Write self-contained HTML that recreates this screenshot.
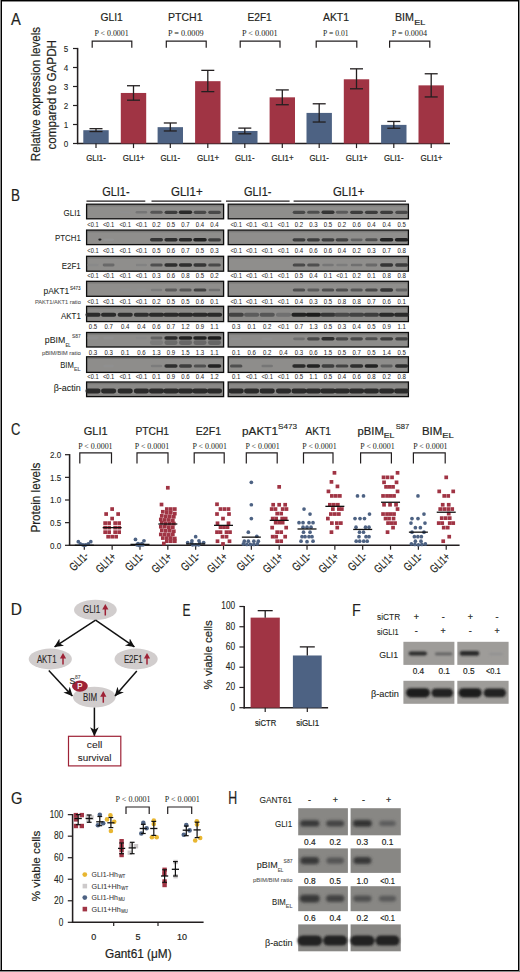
<!DOCTYPE html>
<html><head><meta charset="utf-8"><style>
html,body{margin:0;padding:0;background:#fff;}
body{width:520px;height:972px;overflow:hidden;}
svg{display:block;}
</style></head><body>
<svg width="520" height="972" viewBox="0 0 520 972" fill="#231f20" font-family='"Liberation Sans", sans-serif'>
<defs><filter id="bl" x="-20%" y="-50%" width="140%" height="200%"><feGaussianBlur stdDeviation="0.75"/></filter><filter id="bl2" x="-20%" y="-60%" width="140%" height="220%"><feGaussianBlur stdDeviation="1.3"/></filter><filter id="bl3" x="-30%" y="-80%" width="160%" height="260%"><feGaussianBlur stdDeviation="1.7"/></filter></defs>
<text x="11.00" y="25.00" font-size="16.50" stroke="#231f20" stroke-width="0.20" textLength="9.80" lengthAdjust="spacingAndGlyphs">A</text>
<text x="40.20" y="161.20" font-size="12.60" stroke="#231f20" stroke-width="0.20" textLength="134.30" lengthAdjust="spacingAndGlyphs" transform="rotate(-90 40.20 161.20)">Relative expression levels</text>
<text x="55.80" y="149.60" font-size="12.60" stroke="#231f20" stroke-width="0.20" textLength="109.60" lengthAdjust="spacingAndGlyphs" transform="rotate(-90 55.80 149.60)">compared to GAPDH</text>
<line x1="77.60" y1="144.10" x2="77.60" y2="47.90" stroke="#231f20" stroke-width="1.55"/>
<line x1="73.00" y1="143.50" x2="77.60" y2="143.50" stroke="#231f20" stroke-width="1.20"/>
<text x="68.20" y="146.70" font-size="9.80" stroke="#231f20" stroke-width="0.10" text-anchor="end" textLength="4.50" lengthAdjust="spacingAndGlyphs">0</text>
<line x1="73.00" y1="124.50" x2="77.60" y2="124.50" stroke="#231f20" stroke-width="1.20"/>
<text x="68.20" y="127.70" font-size="9.80" stroke="#231f20" stroke-width="0.10" text-anchor="end" textLength="4.50" lengthAdjust="spacingAndGlyphs">1</text>
<line x1="73.00" y1="105.50" x2="77.60" y2="105.50" stroke="#231f20" stroke-width="1.20"/>
<text x="68.20" y="108.70" font-size="9.80" stroke="#231f20" stroke-width="0.10" text-anchor="end" textLength="4.50" lengthAdjust="spacingAndGlyphs">2</text>
<line x1="73.00" y1="86.50" x2="77.60" y2="86.50" stroke="#231f20" stroke-width="1.20"/>
<text x="68.20" y="89.70" font-size="9.80" stroke="#231f20" stroke-width="0.10" text-anchor="end" textLength="4.50" lengthAdjust="spacingAndGlyphs">3</text>
<line x1="73.00" y1="67.50" x2="77.60" y2="67.50" stroke="#231f20" stroke-width="1.20"/>
<text x="68.20" y="70.70" font-size="9.80" stroke="#231f20" stroke-width="0.10" text-anchor="end" textLength="4.50" lengthAdjust="spacingAndGlyphs">4</text>
<line x1="73.00" y1="48.50" x2="77.60" y2="48.50" stroke="#231f20" stroke-width="1.20"/>
<text x="68.20" y="51.70" font-size="9.80" stroke="#231f20" stroke-width="0.10" text-anchor="end" textLength="4.50" lengthAdjust="spacingAndGlyphs">5</text>
<line x1="76.90" y1="143.50" x2="450.00" y2="143.50" stroke="#231f20" stroke-width="1.55"/>
<rect x="83.30" y="130.20" width="25.40" height="13.30" fill="#4d6283"/>
<line x1="96.00" y1="128.68" x2="96.00" y2="131.53" stroke="#231f20" stroke-width="1.30"/>
<line x1="89.50" y1="128.68" x2="102.50" y2="128.68" stroke="#231f20" stroke-width="1.30"/>
<line x1="89.50" y1="131.53" x2="102.50" y2="131.53" stroke="#231f20" stroke-width="1.30"/>
<line x1="96.00" y1="143.50" x2="96.00" y2="148.10" stroke="#231f20" stroke-width="1.20"/>
<text x="96.00" y="161.40" font-size="9.20" stroke="#231f20" stroke-width="0.20" text-anchor="middle" textLength="19.50" lengthAdjust="spacingAndGlyphs">GLI1-</text>
<rect x="120.80" y="92.96" width="25.40" height="50.54" fill="#a03444"/>
<line x1="133.50" y1="85.74" x2="133.50" y2="100.18" stroke="#231f20" stroke-width="1.30"/>
<line x1="127.00" y1="85.74" x2="140.00" y2="85.74" stroke="#231f20" stroke-width="1.30"/>
<line x1="127.00" y1="100.18" x2="140.00" y2="100.18" stroke="#231f20" stroke-width="1.30"/>
<line x1="133.50" y1="143.50" x2="133.50" y2="148.10" stroke="#231f20" stroke-width="1.20"/>
<text x="133.80" y="161.40" font-size="9.20" stroke="#231f20" stroke-width="0.20" text-anchor="middle" textLength="22.00" lengthAdjust="spacingAndGlyphs">GLI1+</text>
<rect x="157.60" y="127.16" width="25.40" height="16.34" fill="#4d6283"/>
<line x1="170.30" y1="122.98" x2="170.30" y2="130.96" stroke="#231f20" stroke-width="1.30"/>
<line x1="163.80" y1="122.98" x2="176.80" y2="122.98" stroke="#231f20" stroke-width="1.30"/>
<line x1="163.80" y1="130.96" x2="176.80" y2="130.96" stroke="#231f20" stroke-width="1.30"/>
<line x1="170.30" y1="143.50" x2="170.30" y2="148.10" stroke="#231f20" stroke-width="1.20"/>
<text x="170.30" y="161.40" font-size="9.20" stroke="#231f20" stroke-width="0.20" text-anchor="middle" textLength="19.50" lengthAdjust="spacingAndGlyphs">GLI1-</text>
<rect x="195.10" y="81.18" width="25.40" height="62.32" fill="#a03444"/>
<line x1="207.80" y1="70.35" x2="207.80" y2="91.63" stroke="#231f20" stroke-width="1.30"/>
<line x1="201.30" y1="70.35" x2="214.30" y2="70.35" stroke="#231f20" stroke-width="1.30"/>
<line x1="201.30" y1="91.63" x2="214.30" y2="91.63" stroke="#231f20" stroke-width="1.30"/>
<line x1="207.80" y1="143.50" x2="207.80" y2="148.10" stroke="#231f20" stroke-width="1.20"/>
<text x="208.10" y="161.40" font-size="9.20" stroke="#231f20" stroke-width="0.20" text-anchor="middle" textLength="22.00" lengthAdjust="spacingAndGlyphs">GLI1+</text>
<rect x="232.10" y="130.96" width="25.40" height="12.54" fill="#4d6283"/>
<line x1="244.80" y1="128.11" x2="244.80" y2="133.81" stroke="#231f20" stroke-width="1.30"/>
<line x1="238.30" y1="128.11" x2="251.30" y2="128.11" stroke="#231f20" stroke-width="1.30"/>
<line x1="238.30" y1="133.81" x2="251.30" y2="133.81" stroke="#231f20" stroke-width="1.30"/>
<line x1="244.80" y1="143.50" x2="244.80" y2="148.10" stroke="#231f20" stroke-width="1.20"/>
<text x="244.80" y="161.40" font-size="9.20" stroke="#231f20" stroke-width="0.20" text-anchor="middle" textLength="19.50" lengthAdjust="spacingAndGlyphs">GLI1-</text>
<rect x="269.60" y="97.33" width="25.40" height="46.17" fill="#a03444"/>
<line x1="282.30" y1="89.92" x2="282.30" y2="104.74" stroke="#231f20" stroke-width="1.30"/>
<line x1="275.80" y1="89.92" x2="288.80" y2="89.92" stroke="#231f20" stroke-width="1.30"/>
<line x1="275.80" y1="104.74" x2="288.80" y2="104.74" stroke="#231f20" stroke-width="1.30"/>
<line x1="282.30" y1="143.50" x2="282.30" y2="148.10" stroke="#231f20" stroke-width="1.20"/>
<text x="282.60" y="161.40" font-size="9.20" stroke="#231f20" stroke-width="0.20" text-anchor="middle" textLength="22.00" lengthAdjust="spacingAndGlyphs">GLI1+</text>
<rect x="306.50" y="112.91" width="25.40" height="30.59" fill="#4d6283"/>
<line x1="319.20" y1="103.79" x2="319.20" y2="122.03" stroke="#231f20" stroke-width="1.30"/>
<line x1="312.70" y1="103.79" x2="325.70" y2="103.79" stroke="#231f20" stroke-width="1.30"/>
<line x1="312.70" y1="122.03" x2="325.70" y2="122.03" stroke="#231f20" stroke-width="1.30"/>
<line x1="319.20" y1="143.50" x2="319.20" y2="148.10" stroke="#231f20" stroke-width="1.20"/>
<text x="319.20" y="161.40" font-size="9.20" stroke="#231f20" stroke-width="0.20" text-anchor="middle" textLength="19.50" lengthAdjust="spacingAndGlyphs">GLI1-</text>
<rect x="343.80" y="79.28" width="25.40" height="64.22" fill="#a03444"/>
<line x1="356.50" y1="68.83" x2="356.50" y2="88.78" stroke="#231f20" stroke-width="1.30"/>
<line x1="350.00" y1="68.83" x2="363.00" y2="68.83" stroke="#231f20" stroke-width="1.30"/>
<line x1="350.00" y1="88.78" x2="363.00" y2="88.78" stroke="#231f20" stroke-width="1.30"/>
<line x1="356.50" y1="143.50" x2="356.50" y2="148.10" stroke="#231f20" stroke-width="1.20"/>
<text x="356.80" y="161.40" font-size="9.20" stroke="#231f20" stroke-width="0.20" text-anchor="middle" textLength="22.00" lengthAdjust="spacingAndGlyphs">GLI1+</text>
<rect x="381.10" y="124.88" width="25.40" height="18.62" fill="#4d6283"/>
<line x1="393.80" y1="121.46" x2="393.80" y2="128.30" stroke="#231f20" stroke-width="1.30"/>
<line x1="387.30" y1="121.46" x2="400.30" y2="121.46" stroke="#231f20" stroke-width="1.30"/>
<line x1="387.30" y1="128.30" x2="400.30" y2="128.30" stroke="#231f20" stroke-width="1.30"/>
<line x1="393.80" y1="143.50" x2="393.80" y2="148.10" stroke="#231f20" stroke-width="1.20"/>
<text x="393.80" y="161.40" font-size="9.20" stroke="#231f20" stroke-width="0.20" text-anchor="middle" textLength="19.50" lengthAdjust="spacingAndGlyphs">GLI1-</text>
<rect x="418.50" y="85.36" width="25.40" height="58.14" fill="#a03444"/>
<line x1="431.20" y1="73.77" x2="431.20" y2="96.95" stroke="#231f20" stroke-width="1.30"/>
<line x1="424.70" y1="73.77" x2="437.70" y2="73.77" stroke="#231f20" stroke-width="1.30"/>
<line x1="424.70" y1="96.95" x2="437.70" y2="96.95" stroke="#231f20" stroke-width="1.30"/>
<line x1="431.20" y1="143.50" x2="431.20" y2="148.10" stroke="#231f20" stroke-width="1.20"/>
<text x="431.50" y="161.40" font-size="9.20" stroke="#231f20" stroke-width="0.20" text-anchor="middle" textLength="22.00" lengthAdjust="spacingAndGlyphs">GLI1+</text>
<text x="111.60" y="21.20" font-size="11.60" stroke="#231f20" stroke-width="0.20" text-anchor="middle" textLength="22.30" lengthAdjust="spacingAndGlyphs">GLI1</text>
<text x="185.30" y="21.20" font-size="11.60" stroke="#231f20" stroke-width="0.20" text-anchor="middle" textLength="34.50" lengthAdjust="spacingAndGlyphs">PTCH1</text>
<text x="259.60" y="21.20" font-size="11.60" stroke="#231f20" stroke-width="0.20" text-anchor="middle" textLength="24.20" lengthAdjust="spacingAndGlyphs">E2F1</text>
<text x="336.00" y="21.20" font-size="11.60" stroke="#231f20" stroke-width="0.20" text-anchor="middle" textLength="26.00" lengthAdjust="spacingAndGlyphs">AKT1</text>
<text x="395.00" y="21.20" font-size="11.60" stroke="#231f20" stroke-width="0.20" textLength="19.00" lengthAdjust="spacingAndGlyphs">BIM</text>
<text x="414.20" y="24.60" font-size="7.60" stroke="#231f20" stroke-width="0.20" textLength="11.00" lengthAdjust="spacingAndGlyphs">EL</text>
<text x="111.60" y="35.90" font-size="8.40" text-anchor="middle" textLength="34.30" lengthAdjust="spacingAndGlyphs" font-family='"Liberation Serif", serif'>P &lt; 0.0001</text>
<text x="185.80" y="35.90" font-size="8.40" text-anchor="middle" textLength="35.60" lengthAdjust="spacingAndGlyphs" font-family='"Liberation Serif", serif'>P = 0.0009</text>
<text x="259.80" y="35.90" font-size="8.40" text-anchor="middle" textLength="35.70" lengthAdjust="spacingAndGlyphs" font-family='"Liberation Serif", serif'>P &lt; 0.0001</text>
<text x="335.80" y="35.90" font-size="8.40" text-anchor="middle" textLength="25.50" lengthAdjust="spacingAndGlyphs" font-family='"Liberation Serif", serif'>P = 0.01</text>
<text x="409.40" y="35.90" font-size="8.40" text-anchor="middle" textLength="35.30" lengthAdjust="spacingAndGlyphs" font-family='"Liberation Serif", serif'>P = 0.0004</text>
<path d="M92.20 47.8 V41.2 H131.80 V47.8" fill="none" stroke="#231f20" stroke-width="1.2"/>
<path d="M166.30 47.8 V41.2 H206.20 V47.8" fill="none" stroke="#231f20" stroke-width="1.2"/>
<path d="M240.20 47.8 V41.2 H280.00 V47.8" fill="none" stroke="#231f20" stroke-width="1.2"/>
<path d="M316.20 47.8 V41.2 H356.80 V47.8" fill="none" stroke="#231f20" stroke-width="1.2"/>
<path d="M389.60 47.8 V41.2 H429.80 V47.8" fill="none" stroke="#231f20" stroke-width="1.2"/>
<text x="11.00" y="201.00" font-size="16.50" stroke="#231f20" stroke-width="0.20" textLength="9.00" lengthAdjust="spacingAndGlyphs">B</text>
<text x="102.20" y="196.30" font-size="12.20" stroke="#231f20" stroke-width="0.20" textLength="27.40" lengthAdjust="spacingAndGlyphs">GLI1-</text>
<text x="171.00" y="196.30" font-size="12.20" stroke="#231f20" stroke-width="0.20" textLength="31.60" lengthAdjust="spacingAndGlyphs">GLI1+</text>
<text x="244.00" y="196.30" font-size="12.20" stroke="#231f20" stroke-width="0.20" textLength="27.40" lengthAdjust="spacingAndGlyphs">GLI1-</text>
<text x="333.00" y="196.30" font-size="12.20" stroke="#231f20" stroke-width="0.20" textLength="31.30" lengthAdjust="spacingAndGlyphs">GLI1+</text>
<line x1="86.50" y1="201.20" x2="145.30" y2="201.20" stroke="#231f20" stroke-width="1.30"/>
<line x1="151.50" y1="201.20" x2="221.30" y2="201.20" stroke="#231f20" stroke-width="1.30"/>
<line x1="226.00" y1="201.20" x2="289.60" y2="201.20" stroke="#231f20" stroke-width="1.30"/>
<line x1="293.60" y1="201.20" x2="406.00" y2="201.20" stroke="#231f20" stroke-width="1.30"/>
<rect x="86.60" y="204.20" width="137.00" height="14.60" fill="#8f8e8c" stroke="#0d0d0d" stroke-width="1.3"/>
<rect x="87.20" y="204.80" width="135.80" height="1.6" fill="#555" opacity="0.35"/>
<g filter="url(#bl)">
<rect x="119.74" y="211.16" width="10.92" height="2.28" rx="1.14" fill="rgb(143,143,143)"/>
<rect x="135.64" y="211.00" width="11.52" height="2.60" rx="1.30" fill="rgb(118,118,118)"/>
<rect x="150.36" y="210.80" width="12.28" height="3.00" rx="1.50" fill="rgb(86,86,86)"/>
<rect x="164.56" y="210.64" width="12.89" height="3.32" rx="1.66" fill="rgb(60,60,60)"/>
<rect x="178.83" y="210.52" width="13.34" height="3.56" rx="1.78" fill="rgb(41,41,41)"/>
<rect x="193.71" y="210.72" width="12.59" height="3.16" rx="1.58" fill="rgb(73,73,73)"/>
<rect x="208.21" y="210.72" width="12.59" height="3.16" rx="1.58" fill="rgb(73,73,73)"/>
</g>
<rect x="228.20" y="204.20" width="180.20" height="14.60" fill="#8f8e8c" stroke="#0d0d0d" stroke-width="1.3"/>
<rect x="228.80" y="204.80" width="179.00" height="1.6" fill="#555" opacity="0.35"/>
<g filter="url(#bl)">
<rect x="292.71" y="210.72" width="12.59" height="3.16" rx="1.58" fill="rgb(73,73,73)"/>
<rect x="307.18" y="210.76" width="12.43" height="3.08" rx="1.54" fill="rgb(79,79,79)"/>
<rect x="321.48" y="210.60" width="13.04" height="3.40" rx="1.70" fill="rgb(54,54,54)"/>
<rect x="335.93" y="210.84" width="12.13" height="2.92" rx="1.46" fill="rgb(92,92,92)"/>
<rect x="350.16" y="210.64" width="12.89" height="3.32" rx="1.66" fill="rgb(60,60,60)"/>
<rect x="364.96" y="210.64" width="12.89" height="3.32" rx="1.66" fill="rgb(60,60,60)"/>
<rect x="380.16" y="210.64" width="12.89" height="3.32" rx="1.66" fill="rgb(60,60,60)"/>
<rect x="395.31" y="210.72" width="12.59" height="3.16" rx="1.58" fill="rgb(73,73,73)"/>
</g>
<rect x="86.60" y="230.10" width="137.00" height="14.50" fill="#8f8e8c" stroke="#0d0d0d" stroke-width="1.3"/>
<rect x="87.20" y="230.70" width="135.80" height="1.6" fill="#555" opacity="0.35"/>
<g filter="url(#bl)">
<rect x="103.17" y="238.68" width="10.86" height="2.25" rx="1.12" fill="rgb(146,146,146)"/>
<rect x="149.98" y="238.10" width="13.04" height="3.40" rx="1.70" fill="rgb(54,54,54)"/>
<rect x="164.40" y="238.06" width="13.19" height="3.48" rx="1.74" fill="rgb(47,47,47)"/>
<rect x="178.83" y="238.02" width="13.34" height="3.56" rx="1.78" fill="rgb(41,41,41)"/>
<rect x="193.25" y="237.98" width="13.50" height="3.64" rx="1.82" fill="rgb(34,34,34)"/>
<rect x="208.06" y="238.14" width="12.89" height="3.32" rx="1.66" fill="rgb(60,60,60)"/>
</g>
<rect x="228.20" y="230.10" width="180.20" height="14.50" fill="#8f8e8c" stroke="#0d0d0d" stroke-width="1.3"/>
<rect x="228.80" y="230.70" width="179.00" height="1.6" fill="#555" opacity="0.35"/>
<g filter="url(#bl)">
<rect x="292.56" y="238.14" width="12.89" height="3.32" rx="1.66" fill="rgb(60,60,60)"/>
<rect x="306.96" y="238.14" width="12.89" height="3.32" rx="1.66" fill="rgb(60,60,60)"/>
<rect x="321.56" y="238.14" width="12.89" height="3.32" rx="1.66" fill="rgb(60,60,60)"/>
<rect x="335.63" y="238.18" width="12.74" height="3.24" rx="1.62" fill="rgb(66,66,66)"/>
<rect x="350.61" y="238.38" width="11.98" height="2.84" rx="1.42" fill="rgb(98,98,98)"/>
<rect x="365.18" y="238.26" width="12.43" height="3.08" rx="1.54" fill="rgb(79,79,79)"/>
<rect x="379.85" y="237.98" width="13.50" height="3.64" rx="1.82" fill="rgb(34,34,34)"/>
<rect x="394.85" y="237.98" width="13.50" height="3.64" rx="1.82" fill="rgb(34,34,34)"/>
</g>
<rect x="86.60" y="256.30" width="137.00" height="14.90" fill="#8f8e8c" stroke="#0d0d0d" stroke-width="1.3"/>
<rect x="87.20" y="256.90" width="135.80" height="1.6" fill="#555" opacity="0.35"/>
<g filter="url(#bl)">
<rect x="87.47" y="263.82" width="11.07" height="2.36" rx="1.18" fill="rgb(137,137,137)"/>
<rect x="102.69" y="263.62" width="11.83" height="2.76" rx="1.38" fill="rgb(105,105,105)"/>
<rect x="135.79" y="263.78" width="11.22" height="2.44" rx="1.22" fill="rgb(130,130,130)"/>
<rect x="150.28" y="263.46" width="12.43" height="3.08" rx="1.54" fill="rgb(79,79,79)"/>
<rect x="164.40" y="263.26" width="13.19" height="3.48" rx="1.74" fill="rgb(47,47,47)"/>
<rect x="178.90" y="263.26" width="13.19" height="3.48" rx="1.74" fill="rgb(47,47,47)"/>
<rect x="193.48" y="263.30" width="13.04" height="3.40" rx="1.70" fill="rgb(54,54,54)"/>
<rect x="208.21" y="263.42" width="12.59" height="3.16" rx="1.58" fill="rgb(73,73,73)"/>
</g>
<rect x="228.20" y="256.30" width="180.20" height="14.90" fill="#8f8e8c" stroke="#0d0d0d" stroke-width="1.3"/>
<rect x="228.80" y="256.90" width="179.00" height="1.6" fill="#555" opacity="0.35"/>
<g filter="url(#bl)">
<rect x="292.71" y="263.42" width="12.59" height="3.16" rx="1.58" fill="rgb(73,73,73)"/>
<rect x="307.18" y="263.46" width="12.43" height="3.08" rx="1.54" fill="rgb(79,79,79)"/>
<rect x="322.24" y="263.70" width="11.52" height="2.60" rx="1.30" fill="rgb(118,118,118)"/>
<rect x="336.31" y="263.74" width="11.37" height="2.52" rx="1.26" fill="rgb(124,124,124)"/>
<rect x="350.76" y="263.66" width="11.67" height="2.68" rx="1.34" fill="rgb(111,111,111)"/>
<rect x="365.49" y="263.62" width="11.83" height="2.76" rx="1.38" fill="rgb(105,105,105)"/>
<rect x="380.08" y="263.30" width="13.04" height="3.40" rx="1.70" fill="rgb(54,54,54)"/>
<rect x="395.16" y="263.34" width="12.89" height="3.32" rx="1.66" fill="rgb(60,60,60)"/>
</g>
<rect x="86.60" y="281.30" width="137.00" height="15.00" fill="#8f8e8c" stroke="#0d0d0d" stroke-width="1.3"/>
<rect x="87.20" y="281.90" width="135.80" height="1.6" fill="#555" opacity="0.35"/>
<g filter="url(#bl)">
<rect x="119.74" y="288.86" width="10.92" height="2.28" rx="1.14" fill="rgb(143,143,143)"/>
<rect x="135.94" y="288.86" width="10.92" height="2.28" rx="1.14" fill="rgb(143,143,143)"/>
<rect x="150.81" y="288.74" width="11.37" height="2.52" rx="1.26" fill="rgb(124,124,124)"/>
<rect x="164.93" y="288.54" width="12.13" height="2.92" rx="1.46" fill="rgb(92,92,92)"/>
<rect x="179.36" y="288.50" width="12.28" height="3.00" rx="1.50" fill="rgb(86,86,86)"/>
<rect x="193.63" y="288.38" width="12.74" height="3.24" rx="1.62" fill="rgb(66,66,66)"/>
<rect x="208.66" y="288.66" width="11.67" height="2.68" rx="1.34" fill="rgb(111,111,111)"/>
</g>
<rect x="228.20" y="281.30" width="180.20" height="15.00" fill="#8f8e8c" stroke="#0d0d0d" stroke-width="1.3"/>
<rect x="228.80" y="281.90" width="179.00" height="1.6" fill="#555" opacity="0.35"/>
<g filter="url(#bl)">
<rect x="292.78" y="288.46" width="12.43" height="3.08" rx="1.54" fill="rgb(79,79,79)"/>
<rect x="307.33" y="288.54" width="12.13" height="2.92" rx="1.46" fill="rgb(92,92,92)"/>
<rect x="321.78" y="288.46" width="12.43" height="3.08" rx="1.54" fill="rgb(79,79,79)"/>
<rect x="335.78" y="288.46" width="12.43" height="3.08" rx="1.54" fill="rgb(79,79,79)"/>
<rect x="350.46" y="288.50" width="12.28" height="3.00" rx="1.50" fill="rgb(86,86,86)"/>
<rect x="365.11" y="288.42" width="12.59" height="3.16" rx="1.58" fill="rgb(73,73,73)"/>
<rect x="380.08" y="288.30" width="13.04" height="3.40" rx="1.70" fill="rgb(54,54,54)"/>
<rect x="395.61" y="288.58" width="11.98" height="2.84" rx="1.42" fill="rgb(98,98,98)"/>
</g>
<rect x="86.60" y="306.30" width="137.00" height="15.30" fill="#8c8b89" stroke="#0d0d0d" stroke-width="1.3"/>
<rect x="87.20" y="306.90" width="135.80" height="1.6" fill="#555" opacity="0.35"/>
<g filter="url(#bl)">
<rect x="85.41" y="312.80" width="15.18" height="4.00" rx="2.00" fill="rgb(41,41,41)"/>
<rect x="101.01" y="312.80" width="15.18" height="4.00" rx="2.00" fill="rgb(41,41,41)"/>
<rect x="117.61" y="312.80" width="15.18" height="4.00" rx="2.00" fill="rgb(47,47,47)"/>
<rect x="133.81" y="312.80" width="15.18" height="4.00" rx="2.00" fill="rgb(47,47,47)"/>
<rect x="148.91" y="312.80" width="15.18" height="4.00" rx="2.00" fill="rgb(41,41,41)"/>
<rect x="163.41" y="312.80" width="15.18" height="4.00" rx="2.00" fill="rgb(41,41,41)"/>
<rect x="177.91" y="312.80" width="15.18" height="4.00" rx="2.00" fill="rgb(41,41,41)"/>
<rect x="192.41" y="312.80" width="15.18" height="4.00" rx="2.00" fill="rgb(41,41,41)"/>
<rect x="206.91" y="312.80" width="15.18" height="4.00" rx="2.00" fill="rgb(41,41,41)"/>
</g>
<rect x="228.20" y="306.30" width="180.20" height="15.30" fill="#8c8b89" stroke="#0d0d0d" stroke-width="1.3"/>
<rect x="228.80" y="306.90" width="179.00" height="1.6" fill="#555" opacity="0.35"/>
<g filter="url(#bl)">
<rect x="228.61" y="312.80" width="15.18" height="4.00" rx="2.00" fill="rgb(66,66,66)"/>
<rect x="244.01" y="312.80" width="15.18" height="4.00" rx="2.00" fill="rgb(92,92,92)"/>
<rect x="259.61" y="312.80" width="15.18" height="4.00" rx="2.00" fill="rgb(86,86,86)"/>
<rect x="275.91" y="312.80" width="15.18" height="4.00" rx="2.00" fill="rgb(111,111,111)"/>
<rect x="291.41" y="312.80" width="15.18" height="4.00" rx="2.00" fill="rgb(34,34,34)"/>
<rect x="305.81" y="312.80" width="15.18" height="4.00" rx="2.00" fill="rgb(28,28,28)"/>
<rect x="320.41" y="312.80" width="15.18" height="4.00" rx="2.00" fill="rgb(54,54,54)"/>
<rect x="334.41" y="312.80" width="15.18" height="4.00" rx="2.00" fill="rgb(73,73,73)"/>
<rect x="349.01" y="312.80" width="15.18" height="4.00" rx="2.00" fill="rgb(66,66,66)"/>
<rect x="363.81" y="312.80" width="15.18" height="4.00" rx="2.00" fill="rgb(60,60,60)"/>
<rect x="379.01" y="312.80" width="15.18" height="4.00" rx="2.00" fill="rgb(41,41,41)"/>
<rect x="394.01" y="312.80" width="15.18" height="4.00" rx="2.00" fill="rgb(41,41,41)"/>
</g>
<rect x="86.60" y="332.50" width="137.00" height="14.50" fill="#8d8c8a" stroke="#0d0d0d" stroke-width="1.3"/>
<rect x="87.20" y="333.10" width="135.80" height="1.6" fill="#555" opacity="0.35"/>
<g filter="url(#bl)">
<rect x="87.54" y="336.86" width="10.92" height="2.28" rx="1.14" fill="rgb(143,143,143)"/>
<rect x="103.14" y="336.86" width="10.92" height="2.28" rx="1.14" fill="rgb(143,143,143)"/>
<rect x="135.87" y="336.82" width="11.07" height="2.36" rx="1.18" fill="rgb(137,137,137)"/>
<rect x="150.51" y="336.58" width="11.98" height="2.84" rx="1.42" fill="rgb(98,98,98)"/>
<rect x="149.94" y="340.30" width="13.11" height="4.60" rx="2.30" fill="rgb(120,120,120)" opacity="0.80"/>
<rect x="164.33" y="336.22" width="13.34" height="3.56" rx="1.78" fill="rgb(41,41,41)"/>
<rect x="164.44" y="340.30" width="13.11" height="4.60" rx="2.30" fill="rgb(97,97,97)" opacity="0.80"/>
<rect x="178.75" y="336.18" width="13.50" height="3.64" rx="1.82" fill="rgb(34,34,34)"/>
<rect x="178.94" y="340.30" width="13.11" height="4.60" rx="2.30" fill="rgb(95,95,95)" opacity="0.80"/>
<rect x="193.25" y="336.18" width="13.50" height="3.64" rx="1.82" fill="rgb(34,34,34)"/>
<rect x="193.44" y="340.30" width="13.11" height="4.60" rx="2.30" fill="rgb(95,95,95)" opacity="0.80"/>
<rect x="207.68" y="336.14" width="13.65" height="3.72" rx="1.86" fill="rgb(28,28,28)"/>
<rect x="207.94" y="340.30" width="13.11" height="4.60" rx="2.30" fill="rgb(92,92,92)" opacity="0.80"/>
</g>
<rect x="228.20" y="332.50" width="180.20" height="14.50" fill="#8d8c8a" stroke="#0d0d0d" stroke-width="1.3"/>
<rect x="228.80" y="333.10" width="179.00" height="1.6" fill="#555" opacity="0.35"/>
<g filter="url(#bl)">
<rect x="230.74" y="337.66" width="10.92" height="2.28" rx="1.14" fill="rgb(143,143,143)"/>
<rect x="261.74" y="337.66" width="10.92" height="2.28" rx="1.14" fill="rgb(143,143,143)"/>
<rect x="293.16" y="337.46" width="11.67" height="2.68" rx="1.34" fill="rgb(111,111,111)"/>
<rect x="307.11" y="337.22" width="12.59" height="3.16" rx="1.58" fill="rgb(73,73,73)"/>
<rect x="321.40" y="337.06" width="13.19" height="3.48" rx="1.74" fill="rgb(47,47,47)"/>
<rect x="335.71" y="337.22" width="12.59" height="3.16" rx="1.58" fill="rgb(73,73,73)"/>
<rect x="350.31" y="337.22" width="12.59" height="3.16" rx="1.58" fill="rgb(73,73,73)"/>
<rect x="365.18" y="337.26" width="12.43" height="3.08" rx="1.54" fill="rgb(79,79,79)"/>
<rect x="380.16" y="337.14" width="12.89" height="3.32" rx="1.66" fill="rgb(60,60,60)"/>
<rect x="395.23" y="337.18" width="12.74" height="3.24" rx="1.62" fill="rgb(66,66,66)"/>
</g>
<rect x="86.60" y="356.80" width="137.00" height="15.60" fill="#8e8d8b" stroke="#0d0d0d" stroke-width="1.3"/>
<rect x="87.20" y="357.40" width="135.80" height="1.6" fill="#555" opacity="0.35"/>
<g filter="url(#bl)">
<rect x="103.14" y="364.86" width="10.92" height="2.28" rx="1.14" fill="rgb(143,143,143)"/>
<rect x="150.81" y="364.74" width="11.37" height="2.52" rx="1.26" fill="rgb(124,124,124)"/>
<rect x="164.40" y="364.26" width="13.19" height="3.48" rx="1.74" fill="rgb(47,47,47)"/>
<rect x="179.06" y="364.34" width="12.89" height="3.32" rx="1.66" fill="rgb(60,60,60)"/>
<rect x="193.78" y="364.46" width="12.43" height="3.08" rx="1.54" fill="rgb(79,79,79)"/>
<rect x="207.75" y="364.18" width="13.50" height="3.64" rx="1.82" fill="rgb(34,34,34)"/>
</g>
<rect x="228.20" y="356.80" width="180.20" height="15.60" fill="#8e8d8b" stroke="#0d0d0d" stroke-width="1.3"/>
<rect x="228.80" y="357.40" width="179.00" height="1.6" fill="#555" opacity="0.35"/>
<g filter="url(#bl)">
<rect x="229.98" y="364.46" width="12.43" height="3.08" rx="1.54" fill="rgb(79,79,79)"/>
<rect x="261.44" y="364.70" width="11.52" height="2.60" rx="1.30" fill="rgb(118,118,118)"/>
<rect x="292.33" y="364.22" width="13.34" height="3.56" rx="1.78" fill="rgb(41,41,41)"/>
<rect x="306.65" y="364.18" width="13.50" height="3.64" rx="1.82" fill="rgb(34,34,34)"/>
<rect x="321.56" y="364.34" width="12.89" height="3.32" rx="1.66" fill="rgb(60,60,60)"/>
<rect x="335.63" y="364.38" width="12.74" height="3.24" rx="1.62" fill="rgb(66,66,66)"/>
<rect x="350.00" y="364.26" width="13.19" height="3.48" rx="1.74" fill="rgb(47,47,47)"/>
<rect x="364.65" y="364.18" width="13.50" height="3.64" rx="1.82" fill="rgb(34,34,34)"/>
<rect x="380.53" y="364.54" width="12.13" height="2.92" rx="1.46" fill="rgb(92,92,92)"/>
<rect x="395.00" y="364.26" width="13.19" height="3.48" rx="1.74" fill="rgb(47,47,47)"/>
</g>
<rect x="86.60" y="382.00" width="137.00" height="14.60" fill="#8a8987" stroke="#0d0d0d" stroke-width="1.3"/>
<rect x="87.20" y="382.60" width="135.80" height="1.6" fill="#555" opacity="0.35"/>
<g filter="url(#bl)">
<rect x="85.41" y="388.60" width="15.18" height="4.80" rx="2.40" fill="rgb(41,41,41)"/>
<rect x="101.01" y="388.60" width="15.18" height="4.80" rx="2.40" fill="rgb(41,41,41)"/>
<rect x="117.61" y="388.60" width="15.18" height="4.80" rx="2.40" fill="rgb(41,41,41)"/>
<rect x="133.81" y="388.60" width="15.18" height="4.80" rx="2.40" fill="rgb(41,41,41)"/>
<rect x="148.91" y="388.60" width="15.18" height="4.80" rx="2.40" fill="rgb(41,41,41)"/>
<rect x="163.41" y="388.60" width="15.18" height="4.80" rx="2.40" fill="rgb(41,41,41)"/>
<rect x="177.91" y="388.60" width="15.18" height="4.80" rx="2.40" fill="rgb(41,41,41)"/>
<rect x="192.41" y="388.60" width="15.18" height="4.80" rx="2.40" fill="rgb(41,41,41)"/>
<rect x="206.91" y="388.60" width="15.18" height="4.80" rx="2.40" fill="rgb(41,41,41)"/>
</g>
<rect x="228.20" y="382.00" width="180.20" height="14.60" fill="#8a8987" stroke="#0d0d0d" stroke-width="1.3"/>
<rect x="228.80" y="382.60" width="179.00" height="1.6" fill="#555" opacity="0.35"/>
<g filter="url(#bl)">
<rect x="228.61" y="388.60" width="15.18" height="4.80" rx="2.40" fill="rgb(41,41,41)"/>
<rect x="244.01" y="388.60" width="15.18" height="4.80" rx="2.40" fill="rgb(41,41,41)"/>
<rect x="259.61" y="388.60" width="15.18" height="4.80" rx="2.40" fill="rgb(41,41,41)"/>
<rect x="275.91" y="388.60" width="15.18" height="4.80" rx="2.40" fill="rgb(41,41,41)"/>
<rect x="291.41" y="388.60" width="15.18" height="4.80" rx="2.40" fill="rgb(41,41,41)"/>
<rect x="305.81" y="388.60" width="15.18" height="4.80" rx="2.40" fill="rgb(41,41,41)"/>
<rect x="320.41" y="388.60" width="15.18" height="4.80" rx="2.40" fill="rgb(41,41,41)"/>
<rect x="334.41" y="388.60" width="15.18" height="4.80" rx="2.40" fill="rgb(41,41,41)"/>
<rect x="349.01" y="388.60" width="15.18" height="4.80" rx="2.40" fill="rgb(41,41,41)"/>
<rect x="363.81" y="388.60" width="15.18" height="4.80" rx="2.40" fill="rgb(41,41,41)"/>
<rect x="379.01" y="388.60" width="15.18" height="4.80" rx="2.40" fill="rgb(41,41,41)"/>
<rect x="394.01" y="388.60" width="15.18" height="4.80" rx="2.40" fill="rgb(41,41,41)"/>
</g>
<ellipse cx="99.9" cy="239.6" rx="1.6" ry="1.1" fill="#222" filter="url(#bl)"/>
<text x="80.80" y="215.80" font-size="9.40" stroke="#231f20" stroke-width="0.08" text-anchor="end" textLength="17.30" lengthAdjust="spacingAndGlyphs">GLI1</text>
<text x="80.80" y="241.20" font-size="9.40" stroke="#231f20" stroke-width="0.08" text-anchor="end" textLength="25.80" lengthAdjust="spacingAndGlyphs">PTCH1</text>
<text x="80.80" y="268.80" font-size="9.40" stroke="#231f20" stroke-width="0.08" text-anchor="end" textLength="19.00" lengthAdjust="spacingAndGlyphs">E2F1</text>
<text x="43.60" y="293.80" font-size="9.40" stroke="#231f20" stroke-width="0.08" textLength="25.70" lengthAdjust="spacingAndGlyphs">pAKT1</text>
<text x="70.10" y="290.40" font-size="5.30" stroke="#231f20" stroke-width="0.08" textLength="10.50" lengthAdjust="spacingAndGlyphs">S473</text>
<text x="80.80" y="303.70" font-size="5.60" stroke="#555" stroke-width="0.08" text-anchor="end" textLength="45.90" lengthAdjust="spacingAndGlyphs" fill="#555">PAKT1/AKT1 ratio</text>
<text x="80.80" y="318.90" font-size="9.40" stroke="#231f20" stroke-width="0.08" text-anchor="end" textLength="19.70" lengthAdjust="spacingAndGlyphs">AKT1</text>
<text x="44.80" y="343.00" font-size="9.40" stroke="#231f20" stroke-width="0.08" textLength="20.40" lengthAdjust="spacingAndGlyphs">pBIM</text>
<text x="65.40" y="346.70" font-size="5.20" stroke="#231f20" stroke-width="0.08" textLength="5.30" lengthAdjust="spacingAndGlyphs">EL</text>
<text x="72.00" y="338.00" font-size="5.30" stroke="#444" stroke-width="0.08" textLength="8.60" lengthAdjust="spacingAndGlyphs" fill="#444">S87</text>
<text x="80.80" y="354.60" font-size="5.60" stroke="#555" stroke-width="0.08" text-anchor="end" textLength="38.90" lengthAdjust="spacingAndGlyphs" fill="#555">pBIM/BIM ratio</text>
<text x="60.20" y="367.70" font-size="9.40" stroke="#231f20" stroke-width="0.08" textLength="13.60" lengthAdjust="spacingAndGlyphs">BIM</text>
<text x="74.00" y="371.40" font-size="5.20" stroke="#444" stroke-width="0.08" textLength="6.60" lengthAdjust="spacingAndGlyphs" fill="#444">EL</text>
<text x="80.80" y="391.10" font-size="9.40" stroke="#231f20" stroke-width="0.08" text-anchor="end" textLength="27.10" lengthAdjust="spacingAndGlyphs">&#946;-actin</text>
<text x="93.00" y="226.90" font-size="7.30" stroke="#2a2a2a" stroke-width="0.05" text-anchor="middle" textLength="11.40" lengthAdjust="spacingAndGlyphs" fill="#2a2a2a">&lt;0.1</text>
<text x="108.60" y="226.90" font-size="7.30" stroke="#2a2a2a" stroke-width="0.05" text-anchor="middle" textLength="11.40" lengthAdjust="spacingAndGlyphs" fill="#2a2a2a">&lt;0.1</text>
<text x="125.20" y="226.90" font-size="7.30" stroke="#2a2a2a" stroke-width="0.05" text-anchor="middle" textLength="11.40" lengthAdjust="spacingAndGlyphs" fill="#2a2a2a">&lt;0.1</text>
<text x="141.40" y="226.90" font-size="7.30" stroke="#2a2a2a" stroke-width="0.05" text-anchor="middle" textLength="11.40" lengthAdjust="spacingAndGlyphs" fill="#2a2a2a">&lt;0.1</text>
<text x="156.50" y="226.90" font-size="7.30" stroke="#2a2a2a" stroke-width="0.05" text-anchor="middle" textLength="8.40" lengthAdjust="spacingAndGlyphs" fill="#2a2a2a">0.2</text>
<text x="171.00" y="226.90" font-size="7.30" stroke="#2a2a2a" stroke-width="0.05" text-anchor="middle" textLength="8.40" lengthAdjust="spacingAndGlyphs" fill="#2a2a2a">0.5</text>
<text x="185.50" y="226.90" font-size="7.30" stroke="#2a2a2a" stroke-width="0.05" text-anchor="middle" textLength="8.40" lengthAdjust="spacingAndGlyphs" fill="#2a2a2a">0.7</text>
<text x="200.00" y="226.90" font-size="7.30" stroke="#2a2a2a" stroke-width="0.05" text-anchor="middle" textLength="8.40" lengthAdjust="spacingAndGlyphs" fill="#2a2a2a">0.4</text>
<text x="214.50" y="226.90" font-size="7.30" stroke="#2a2a2a" stroke-width="0.05" text-anchor="middle" textLength="8.40" lengthAdjust="spacingAndGlyphs" fill="#2a2a2a">0.4</text>
<text x="236.20" y="226.90" font-size="7.30" stroke="#2a2a2a" stroke-width="0.05" text-anchor="middle" textLength="11.40" lengthAdjust="spacingAndGlyphs" fill="#2a2a2a">&lt;0.1</text>
<text x="251.60" y="226.90" font-size="7.30" stroke="#2a2a2a" stroke-width="0.05" text-anchor="middle" textLength="11.40" lengthAdjust="spacingAndGlyphs" fill="#2a2a2a">&lt;0.1</text>
<text x="267.20" y="226.90" font-size="7.30" stroke="#2a2a2a" stroke-width="0.05" text-anchor="middle" textLength="11.40" lengthAdjust="spacingAndGlyphs" fill="#2a2a2a">&lt;0.1</text>
<text x="283.50" y="226.90" font-size="7.30" stroke="#2a2a2a" stroke-width="0.05" text-anchor="middle" textLength="11.40" lengthAdjust="spacingAndGlyphs" fill="#2a2a2a">&lt;0.1</text>
<text x="299.00" y="226.90" font-size="7.30" stroke="#2a2a2a" stroke-width="0.05" text-anchor="middle" textLength="8.40" lengthAdjust="spacingAndGlyphs" fill="#2a2a2a">0.2</text>
<text x="313.40" y="226.90" font-size="7.30" stroke="#2a2a2a" stroke-width="0.05" text-anchor="middle" textLength="8.40" lengthAdjust="spacingAndGlyphs" fill="#2a2a2a">0.3</text>
<text x="328.00" y="226.90" font-size="7.30" stroke="#2a2a2a" stroke-width="0.05" text-anchor="middle" textLength="8.40" lengthAdjust="spacingAndGlyphs" fill="#2a2a2a">0.5</text>
<text x="342.00" y="226.90" font-size="7.30" stroke="#2a2a2a" stroke-width="0.05" text-anchor="middle" textLength="8.40" lengthAdjust="spacingAndGlyphs" fill="#2a2a2a">0.2</text>
<text x="356.60" y="226.90" font-size="7.30" stroke="#2a2a2a" stroke-width="0.05" text-anchor="middle" textLength="8.40" lengthAdjust="spacingAndGlyphs" fill="#2a2a2a">0.6</text>
<text x="371.40" y="226.90" font-size="7.30" stroke="#2a2a2a" stroke-width="0.05" text-anchor="middle" textLength="8.40" lengthAdjust="spacingAndGlyphs" fill="#2a2a2a">0.4</text>
<text x="386.60" y="226.90" font-size="7.30" stroke="#2a2a2a" stroke-width="0.05" text-anchor="middle" textLength="8.40" lengthAdjust="spacingAndGlyphs" fill="#2a2a2a">0.4</text>
<text x="401.60" y="226.90" font-size="7.30" stroke="#2a2a2a" stroke-width="0.05" text-anchor="middle" textLength="8.40" lengthAdjust="spacingAndGlyphs" fill="#2a2a2a">0.5</text>
<text x="93.00" y="252.50" font-size="7.30" stroke="#2a2a2a" stroke-width="0.05" text-anchor="middle" textLength="11.40" lengthAdjust="spacingAndGlyphs" fill="#2a2a2a">&lt;0.1</text>
<text x="108.60" y="252.50" font-size="7.30" stroke="#2a2a2a" stroke-width="0.05" text-anchor="middle" textLength="11.40" lengthAdjust="spacingAndGlyphs" fill="#2a2a2a">&lt;0.1</text>
<text x="125.20" y="252.50" font-size="7.30" stroke="#2a2a2a" stroke-width="0.05" text-anchor="middle" textLength="11.40" lengthAdjust="spacingAndGlyphs" fill="#2a2a2a">&lt;0.1</text>
<text x="141.40" y="252.50" font-size="7.30" stroke="#2a2a2a" stroke-width="0.05" text-anchor="middle" textLength="11.40" lengthAdjust="spacingAndGlyphs" fill="#2a2a2a">&lt;0.1</text>
<text x="156.50" y="252.50" font-size="7.30" stroke="#2a2a2a" stroke-width="0.05" text-anchor="middle" textLength="8.40" lengthAdjust="spacingAndGlyphs" fill="#2a2a2a">0.5</text>
<text x="171.00" y="252.50" font-size="7.30" stroke="#2a2a2a" stroke-width="0.05" text-anchor="middle" textLength="8.40" lengthAdjust="spacingAndGlyphs" fill="#2a2a2a">0.6</text>
<text x="185.50" y="252.50" font-size="7.30" stroke="#2a2a2a" stroke-width="0.05" text-anchor="middle" textLength="8.40" lengthAdjust="spacingAndGlyphs" fill="#2a2a2a">0.7</text>
<text x="200.00" y="252.50" font-size="7.30" stroke="#2a2a2a" stroke-width="0.05" text-anchor="middle" textLength="8.40" lengthAdjust="spacingAndGlyphs" fill="#2a2a2a">0.5</text>
<text x="214.50" y="252.50" font-size="7.30" stroke="#2a2a2a" stroke-width="0.05" text-anchor="middle" textLength="8.40" lengthAdjust="spacingAndGlyphs" fill="#2a2a2a">0.3</text>
<text x="236.20" y="252.50" font-size="7.30" stroke="#2a2a2a" stroke-width="0.05" text-anchor="middle" textLength="11.40" lengthAdjust="spacingAndGlyphs" fill="#2a2a2a">&lt;0.1</text>
<text x="251.60" y="252.50" font-size="7.30" stroke="#2a2a2a" stroke-width="0.05" text-anchor="middle" textLength="11.40" lengthAdjust="spacingAndGlyphs" fill="#2a2a2a">&lt;0.1</text>
<text x="267.20" y="252.50" font-size="7.30" stroke="#2a2a2a" stroke-width="0.05" text-anchor="middle" textLength="11.40" lengthAdjust="spacingAndGlyphs" fill="#2a2a2a">&lt;0.1</text>
<text x="283.50" y="252.50" font-size="7.30" stroke="#2a2a2a" stroke-width="0.05" text-anchor="middle" textLength="11.40" lengthAdjust="spacingAndGlyphs" fill="#2a2a2a">&lt;0.1</text>
<text x="299.00" y="252.50" font-size="7.30" stroke="#2a2a2a" stroke-width="0.05" text-anchor="middle" textLength="8.40" lengthAdjust="spacingAndGlyphs" fill="#2a2a2a">0.4</text>
<text x="313.40" y="252.50" font-size="7.30" stroke="#2a2a2a" stroke-width="0.05" text-anchor="middle" textLength="8.40" lengthAdjust="spacingAndGlyphs" fill="#2a2a2a">0.6</text>
<text x="328.00" y="252.50" font-size="7.30" stroke="#2a2a2a" stroke-width="0.05" text-anchor="middle" textLength="8.40" lengthAdjust="spacingAndGlyphs" fill="#2a2a2a">0.6</text>
<text x="342.00" y="252.50" font-size="7.30" stroke="#2a2a2a" stroke-width="0.05" text-anchor="middle" textLength="8.40" lengthAdjust="spacingAndGlyphs" fill="#2a2a2a">0.4</text>
<text x="356.60" y="252.50" font-size="7.30" stroke="#2a2a2a" stroke-width="0.05" text-anchor="middle" textLength="8.40" lengthAdjust="spacingAndGlyphs" fill="#2a2a2a">0.2</text>
<text x="371.40" y="252.50" font-size="7.30" stroke="#2a2a2a" stroke-width="0.05" text-anchor="middle" textLength="8.40" lengthAdjust="spacingAndGlyphs" fill="#2a2a2a">0.3</text>
<text x="386.60" y="252.50" font-size="7.30" stroke="#2a2a2a" stroke-width="0.05" text-anchor="middle" textLength="8.40" lengthAdjust="spacingAndGlyphs" fill="#2a2a2a">0.7</text>
<text x="401.60" y="252.50" font-size="7.30" stroke="#2a2a2a" stroke-width="0.05" text-anchor="middle" textLength="8.40" lengthAdjust="spacingAndGlyphs" fill="#2a2a2a">0.8</text>
<text x="93.00" y="277.90" font-size="7.30" stroke="#2a2a2a" stroke-width="0.05" text-anchor="middle" textLength="11.40" lengthAdjust="spacingAndGlyphs" fill="#2a2a2a">&lt;0.1</text>
<text x="108.60" y="277.90" font-size="7.30" stroke="#2a2a2a" stroke-width="0.05" text-anchor="middle" textLength="11.40" lengthAdjust="spacingAndGlyphs" fill="#2a2a2a">&lt;0.1</text>
<text x="125.20" y="277.90" font-size="7.30" stroke="#2a2a2a" stroke-width="0.05" text-anchor="middle" textLength="11.40" lengthAdjust="spacingAndGlyphs" fill="#2a2a2a">&lt;0.1</text>
<text x="141.40" y="277.90" font-size="7.30" stroke="#2a2a2a" stroke-width="0.05" text-anchor="middle" textLength="11.40" lengthAdjust="spacingAndGlyphs" fill="#2a2a2a">&lt;0.1</text>
<text x="156.50" y="277.90" font-size="7.30" stroke="#2a2a2a" stroke-width="0.05" text-anchor="middle" textLength="8.40" lengthAdjust="spacingAndGlyphs" fill="#2a2a2a">0.3</text>
<text x="171.00" y="277.90" font-size="7.30" stroke="#2a2a2a" stroke-width="0.05" text-anchor="middle" textLength="8.40" lengthAdjust="spacingAndGlyphs" fill="#2a2a2a">0.6</text>
<text x="185.50" y="277.90" font-size="7.30" stroke="#2a2a2a" stroke-width="0.05" text-anchor="middle" textLength="8.40" lengthAdjust="spacingAndGlyphs" fill="#2a2a2a">0.8</text>
<text x="200.00" y="277.90" font-size="7.30" stroke="#2a2a2a" stroke-width="0.05" text-anchor="middle" textLength="8.40" lengthAdjust="spacingAndGlyphs" fill="#2a2a2a">0.5</text>
<text x="214.50" y="277.90" font-size="7.30" stroke="#2a2a2a" stroke-width="0.05" text-anchor="middle" textLength="8.40" lengthAdjust="spacingAndGlyphs" fill="#2a2a2a">0.2</text>
<text x="236.20" y="277.90" font-size="7.30" stroke="#2a2a2a" stroke-width="0.05" text-anchor="middle" textLength="11.40" lengthAdjust="spacingAndGlyphs" fill="#2a2a2a">&lt;0.1</text>
<text x="251.60" y="277.90" font-size="7.30" stroke="#2a2a2a" stroke-width="0.05" text-anchor="middle" textLength="11.40" lengthAdjust="spacingAndGlyphs" fill="#2a2a2a">&lt;0.1</text>
<text x="267.20" y="277.90" font-size="7.30" stroke="#2a2a2a" stroke-width="0.05" text-anchor="middle" textLength="11.40" lengthAdjust="spacingAndGlyphs" fill="#2a2a2a">&lt;0.1</text>
<text x="283.50" y="277.90" font-size="7.30" stroke="#2a2a2a" stroke-width="0.05" text-anchor="middle" textLength="11.40" lengthAdjust="spacingAndGlyphs" fill="#2a2a2a">&lt;0.1</text>
<text x="299.00" y="277.90" font-size="7.30" stroke="#2a2a2a" stroke-width="0.05" text-anchor="middle" textLength="8.40" lengthAdjust="spacingAndGlyphs" fill="#2a2a2a">0.5</text>
<text x="313.40" y="277.90" font-size="7.30" stroke="#2a2a2a" stroke-width="0.05" text-anchor="middle" textLength="8.40" lengthAdjust="spacingAndGlyphs" fill="#2a2a2a">0.4</text>
<text x="328.00" y="277.90" font-size="7.30" stroke="#2a2a2a" stroke-width="0.05" text-anchor="middle" textLength="8.40" lengthAdjust="spacingAndGlyphs" fill="#2a2a2a">0.1</text>
<text x="342.00" y="277.90" font-size="7.30" stroke="#2a2a2a" stroke-width="0.05" text-anchor="middle" textLength="11.40" lengthAdjust="spacingAndGlyphs" fill="#2a2a2a">&lt;0.1</text>
<text x="356.60" y="277.90" font-size="7.30" stroke="#2a2a2a" stroke-width="0.05" text-anchor="middle" textLength="8.40" lengthAdjust="spacingAndGlyphs" fill="#2a2a2a">0.2</text>
<text x="371.40" y="277.90" font-size="7.30" stroke="#2a2a2a" stroke-width="0.05" text-anchor="middle" textLength="8.40" lengthAdjust="spacingAndGlyphs" fill="#2a2a2a">0.1</text>
<text x="386.60" y="277.90" font-size="7.30" stroke="#2a2a2a" stroke-width="0.05" text-anchor="middle" textLength="8.40" lengthAdjust="spacingAndGlyphs" fill="#2a2a2a">0.8</text>
<text x="401.60" y="277.90" font-size="7.30" stroke="#2a2a2a" stroke-width="0.05" text-anchor="middle" textLength="8.40" lengthAdjust="spacingAndGlyphs" fill="#2a2a2a">0.8</text>
<text x="93.00" y="304.00" font-size="7.30" stroke="#2a2a2a" stroke-width="0.05" text-anchor="middle" textLength="11.40" lengthAdjust="spacingAndGlyphs" fill="#2a2a2a">&lt;0.1</text>
<text x="108.60" y="304.00" font-size="7.30" stroke="#2a2a2a" stroke-width="0.05" text-anchor="middle" textLength="11.40" lengthAdjust="spacingAndGlyphs" fill="#2a2a2a">&lt;0.1</text>
<text x="125.20" y="304.00" font-size="7.30" stroke="#2a2a2a" stroke-width="0.05" text-anchor="middle" textLength="11.40" lengthAdjust="spacingAndGlyphs" fill="#2a2a2a">&lt;0.1</text>
<text x="141.40" y="304.00" font-size="7.30" stroke="#2a2a2a" stroke-width="0.05" text-anchor="middle" textLength="11.40" lengthAdjust="spacingAndGlyphs" fill="#2a2a2a">&lt;0.1</text>
<text x="156.50" y="304.00" font-size="7.30" stroke="#2a2a2a" stroke-width="0.05" text-anchor="middle" textLength="8.40" lengthAdjust="spacingAndGlyphs" fill="#2a2a2a">0.2</text>
<text x="171.00" y="304.00" font-size="7.30" stroke="#2a2a2a" stroke-width="0.05" text-anchor="middle" textLength="8.40" lengthAdjust="spacingAndGlyphs" fill="#2a2a2a">0.5</text>
<text x="185.50" y="304.00" font-size="7.30" stroke="#2a2a2a" stroke-width="0.05" text-anchor="middle" textLength="8.40" lengthAdjust="spacingAndGlyphs" fill="#2a2a2a">0.5</text>
<text x="200.00" y="304.00" font-size="7.30" stroke="#2a2a2a" stroke-width="0.05" text-anchor="middle" textLength="8.40" lengthAdjust="spacingAndGlyphs" fill="#2a2a2a">0.6</text>
<text x="214.50" y="304.00" font-size="7.30" stroke="#2a2a2a" stroke-width="0.05" text-anchor="middle" textLength="8.40" lengthAdjust="spacingAndGlyphs" fill="#2a2a2a">0.1</text>
<text x="236.20" y="304.00" font-size="7.30" stroke="#2a2a2a" stroke-width="0.05" text-anchor="middle" textLength="11.40" lengthAdjust="spacingAndGlyphs" fill="#2a2a2a">&lt;0.1</text>
<text x="251.60" y="304.00" font-size="7.30" stroke="#2a2a2a" stroke-width="0.05" text-anchor="middle" textLength="11.40" lengthAdjust="spacingAndGlyphs" fill="#2a2a2a">&lt;0.1</text>
<text x="267.20" y="304.00" font-size="7.30" stroke="#2a2a2a" stroke-width="0.05" text-anchor="middle" textLength="11.40" lengthAdjust="spacingAndGlyphs" fill="#2a2a2a">&lt;0.1</text>
<text x="283.50" y="304.00" font-size="7.30" stroke="#2a2a2a" stroke-width="0.05" text-anchor="middle" textLength="11.40" lengthAdjust="spacingAndGlyphs" fill="#2a2a2a">&lt;0.1</text>
<text x="299.00" y="304.00" font-size="7.30" stroke="#2a2a2a" stroke-width="0.05" text-anchor="middle" textLength="8.40" lengthAdjust="spacingAndGlyphs" fill="#2a2a2a">0.4</text>
<text x="313.40" y="304.00" font-size="7.30" stroke="#2a2a2a" stroke-width="0.05" text-anchor="middle" textLength="8.40" lengthAdjust="spacingAndGlyphs" fill="#2a2a2a">0.3</text>
<text x="328.00" y="304.00" font-size="7.30" stroke="#2a2a2a" stroke-width="0.05" text-anchor="middle" textLength="8.40" lengthAdjust="spacingAndGlyphs" fill="#2a2a2a">0.5</text>
<text x="342.00" y="304.00" font-size="7.30" stroke="#2a2a2a" stroke-width="0.05" text-anchor="middle" textLength="8.40" lengthAdjust="spacingAndGlyphs" fill="#2a2a2a">0.8</text>
<text x="356.60" y="304.00" font-size="7.30" stroke="#2a2a2a" stroke-width="0.05" text-anchor="middle" textLength="8.40" lengthAdjust="spacingAndGlyphs" fill="#2a2a2a">0.8</text>
<text x="371.40" y="304.00" font-size="7.30" stroke="#2a2a2a" stroke-width="0.05" text-anchor="middle" textLength="8.40" lengthAdjust="spacingAndGlyphs" fill="#2a2a2a">0.7</text>
<text x="386.60" y="304.00" font-size="7.30" stroke="#2a2a2a" stroke-width="0.05" text-anchor="middle" textLength="8.40" lengthAdjust="spacingAndGlyphs" fill="#2a2a2a">0.6</text>
<text x="401.60" y="304.00" font-size="7.30" stroke="#2a2a2a" stroke-width="0.05" text-anchor="middle" textLength="8.40" lengthAdjust="spacingAndGlyphs" fill="#2a2a2a">0.1</text>
<text x="93.00" y="328.70" font-size="7.30" stroke="#2a2a2a" stroke-width="0.05" text-anchor="middle" textLength="8.40" lengthAdjust="spacingAndGlyphs" fill="#2a2a2a">0.5</text>
<text x="108.60" y="328.70" font-size="7.30" stroke="#2a2a2a" stroke-width="0.05" text-anchor="middle" textLength="8.40" lengthAdjust="spacingAndGlyphs" fill="#2a2a2a">0.7</text>
<text x="125.20" y="328.70" font-size="7.30" stroke="#2a2a2a" stroke-width="0.05" text-anchor="middle" textLength="8.40" lengthAdjust="spacingAndGlyphs" fill="#2a2a2a">0.4</text>
<text x="141.40" y="328.70" font-size="7.30" stroke="#2a2a2a" stroke-width="0.05" text-anchor="middle" textLength="8.40" lengthAdjust="spacingAndGlyphs" fill="#2a2a2a">0.4</text>
<text x="156.50" y="328.70" font-size="7.30" stroke="#2a2a2a" stroke-width="0.05" text-anchor="middle" textLength="8.40" lengthAdjust="spacingAndGlyphs" fill="#2a2a2a">0.6</text>
<text x="171.00" y="328.70" font-size="7.30" stroke="#2a2a2a" stroke-width="0.05" text-anchor="middle" textLength="8.40" lengthAdjust="spacingAndGlyphs" fill="#2a2a2a">0.7</text>
<text x="185.50" y="328.70" font-size="7.30" stroke="#2a2a2a" stroke-width="0.05" text-anchor="middle" textLength="8.40" lengthAdjust="spacingAndGlyphs" fill="#2a2a2a">1.2</text>
<text x="200.00" y="328.70" font-size="7.30" stroke="#2a2a2a" stroke-width="0.05" text-anchor="middle" textLength="8.40" lengthAdjust="spacingAndGlyphs" fill="#2a2a2a">0.9</text>
<text x="214.50" y="328.70" font-size="7.30" stroke="#2a2a2a" stroke-width="0.05" text-anchor="middle" textLength="8.40" lengthAdjust="spacingAndGlyphs" fill="#2a2a2a">1.1</text>
<text x="236.20" y="328.70" font-size="7.30" stroke="#2a2a2a" stroke-width="0.05" text-anchor="middle" textLength="8.40" lengthAdjust="spacingAndGlyphs" fill="#2a2a2a">0.3</text>
<text x="251.60" y="328.70" font-size="7.30" stroke="#2a2a2a" stroke-width="0.05" text-anchor="middle" textLength="8.40" lengthAdjust="spacingAndGlyphs" fill="#2a2a2a">0.1</text>
<text x="267.20" y="328.70" font-size="7.30" stroke="#2a2a2a" stroke-width="0.05" text-anchor="middle" textLength="8.40" lengthAdjust="spacingAndGlyphs" fill="#2a2a2a">0.2</text>
<text x="283.50" y="328.70" font-size="7.30" stroke="#2a2a2a" stroke-width="0.05" text-anchor="middle" textLength="11.40" lengthAdjust="spacingAndGlyphs" fill="#2a2a2a">&lt;0.1</text>
<text x="299.00" y="328.70" font-size="7.30" stroke="#2a2a2a" stroke-width="0.05" text-anchor="middle" textLength="8.40" lengthAdjust="spacingAndGlyphs" fill="#2a2a2a">0.7</text>
<text x="313.40" y="328.70" font-size="7.30" stroke="#2a2a2a" stroke-width="0.05" text-anchor="middle" textLength="8.40" lengthAdjust="spacingAndGlyphs" fill="#2a2a2a">1.3</text>
<text x="328.00" y="328.70" font-size="7.30" stroke="#2a2a2a" stroke-width="0.05" text-anchor="middle" textLength="8.40" lengthAdjust="spacingAndGlyphs" fill="#2a2a2a">0.5</text>
<text x="342.00" y="328.70" font-size="7.30" stroke="#2a2a2a" stroke-width="0.05" text-anchor="middle" textLength="8.40" lengthAdjust="spacingAndGlyphs" fill="#2a2a2a">0.3</text>
<text x="356.60" y="328.70" font-size="7.30" stroke="#2a2a2a" stroke-width="0.05" text-anchor="middle" textLength="8.40" lengthAdjust="spacingAndGlyphs" fill="#2a2a2a">0.4</text>
<text x="371.40" y="328.70" font-size="7.30" stroke="#2a2a2a" stroke-width="0.05" text-anchor="middle" textLength="8.40" lengthAdjust="spacingAndGlyphs" fill="#2a2a2a">0.5</text>
<text x="386.60" y="328.70" font-size="7.30" stroke="#2a2a2a" stroke-width="0.05" text-anchor="middle" textLength="8.40" lengthAdjust="spacingAndGlyphs" fill="#2a2a2a">0.9</text>
<text x="401.60" y="328.70" font-size="7.30" stroke="#2a2a2a" stroke-width="0.05" text-anchor="middle" textLength="8.40" lengthAdjust="spacingAndGlyphs" fill="#2a2a2a">1.1</text>
<text x="93.00" y="354.90" font-size="7.30" stroke="#2a2a2a" stroke-width="0.05" text-anchor="middle" textLength="8.40" lengthAdjust="spacingAndGlyphs" fill="#2a2a2a">0.3</text>
<text x="108.60" y="354.90" font-size="7.30" stroke="#2a2a2a" stroke-width="0.05" text-anchor="middle" textLength="8.40" lengthAdjust="spacingAndGlyphs" fill="#2a2a2a">0.3</text>
<text x="125.20" y="354.90" font-size="7.30" stroke="#2a2a2a" stroke-width="0.05" text-anchor="middle" textLength="8.40" lengthAdjust="spacingAndGlyphs" fill="#2a2a2a">0.1</text>
<text x="141.40" y="354.90" font-size="7.30" stroke="#2a2a2a" stroke-width="0.05" text-anchor="middle" textLength="8.40" lengthAdjust="spacingAndGlyphs" fill="#2a2a2a">0.6</text>
<text x="156.50" y="354.90" font-size="7.30" stroke="#2a2a2a" stroke-width="0.05" text-anchor="middle" textLength="8.40" lengthAdjust="spacingAndGlyphs" fill="#2a2a2a">1.3</text>
<text x="171.00" y="354.90" font-size="7.30" stroke="#2a2a2a" stroke-width="0.05" text-anchor="middle" textLength="8.40" lengthAdjust="spacingAndGlyphs" fill="#2a2a2a">0.9</text>
<text x="185.50" y="354.90" font-size="7.30" stroke="#2a2a2a" stroke-width="0.05" text-anchor="middle" textLength="8.40" lengthAdjust="spacingAndGlyphs" fill="#2a2a2a">1.5</text>
<text x="200.00" y="354.90" font-size="7.30" stroke="#2a2a2a" stroke-width="0.05" text-anchor="middle" textLength="8.40" lengthAdjust="spacingAndGlyphs" fill="#2a2a2a">1.3</text>
<text x="214.50" y="354.90" font-size="7.30" stroke="#2a2a2a" stroke-width="0.05" text-anchor="middle" textLength="8.40" lengthAdjust="spacingAndGlyphs" fill="#2a2a2a">1.1</text>
<text x="236.20" y="354.90" font-size="7.30" stroke="#2a2a2a" stroke-width="0.05" text-anchor="middle" textLength="8.40" lengthAdjust="spacingAndGlyphs" fill="#2a2a2a">0.1</text>
<text x="251.60" y="354.90" font-size="7.30" stroke="#2a2a2a" stroke-width="0.05" text-anchor="middle" textLength="8.40" lengthAdjust="spacingAndGlyphs" fill="#2a2a2a">0.6</text>
<text x="267.20" y="354.90" font-size="7.30" stroke="#2a2a2a" stroke-width="0.05" text-anchor="middle" textLength="8.40" lengthAdjust="spacingAndGlyphs" fill="#2a2a2a">0.2</text>
<text x="283.50" y="354.90" font-size="7.30" stroke="#2a2a2a" stroke-width="0.05" text-anchor="middle" textLength="8.40" lengthAdjust="spacingAndGlyphs" fill="#2a2a2a">0.4</text>
<text x="299.00" y="354.90" font-size="7.30" stroke="#2a2a2a" stroke-width="0.05" text-anchor="middle" textLength="8.40" lengthAdjust="spacingAndGlyphs" fill="#2a2a2a">0.3</text>
<text x="313.40" y="354.90" font-size="7.30" stroke="#2a2a2a" stroke-width="0.05" text-anchor="middle" textLength="8.40" lengthAdjust="spacingAndGlyphs" fill="#2a2a2a">0.6</text>
<text x="328.00" y="354.90" font-size="7.30" stroke="#2a2a2a" stroke-width="0.05" text-anchor="middle" textLength="8.40" lengthAdjust="spacingAndGlyphs" fill="#2a2a2a">1.5</text>
<text x="342.00" y="354.90" font-size="7.30" stroke="#2a2a2a" stroke-width="0.05" text-anchor="middle" textLength="8.40" lengthAdjust="spacingAndGlyphs" fill="#2a2a2a">0.5</text>
<text x="356.60" y="354.90" font-size="7.30" stroke="#2a2a2a" stroke-width="0.05" text-anchor="middle" textLength="8.40" lengthAdjust="spacingAndGlyphs" fill="#2a2a2a">0.7</text>
<text x="371.40" y="354.90" font-size="7.30" stroke="#2a2a2a" stroke-width="0.05" text-anchor="middle" textLength="8.40" lengthAdjust="spacingAndGlyphs" fill="#2a2a2a">0.5</text>
<text x="386.60" y="354.90" font-size="7.30" stroke="#2a2a2a" stroke-width="0.05" text-anchor="middle" textLength="8.40" lengthAdjust="spacingAndGlyphs" fill="#2a2a2a">1.4</text>
<text x="401.60" y="354.90" font-size="7.30" stroke="#2a2a2a" stroke-width="0.05" text-anchor="middle" textLength="8.40" lengthAdjust="spacingAndGlyphs" fill="#2a2a2a">0.5</text>
<text x="93.00" y="379.30" font-size="7.30" stroke="#2a2a2a" stroke-width="0.05" text-anchor="middle" textLength="11.40" lengthAdjust="spacingAndGlyphs" fill="#2a2a2a">&lt;0.1</text>
<text x="108.60" y="379.30" font-size="7.30" stroke="#2a2a2a" stroke-width="0.05" text-anchor="middle" textLength="11.40" lengthAdjust="spacingAndGlyphs" fill="#2a2a2a">&lt;0.1</text>
<text x="125.20" y="379.30" font-size="7.30" stroke="#2a2a2a" stroke-width="0.05" text-anchor="middle" textLength="11.40" lengthAdjust="spacingAndGlyphs" fill="#2a2a2a">&lt;0.1</text>
<text x="141.40" y="379.30" font-size="7.30" stroke="#2a2a2a" stroke-width="0.05" text-anchor="middle" textLength="11.40" lengthAdjust="spacingAndGlyphs" fill="#2a2a2a">&lt;0.1</text>
<text x="156.50" y="379.30" font-size="7.30" stroke="#2a2a2a" stroke-width="0.05" text-anchor="middle" textLength="8.40" lengthAdjust="spacingAndGlyphs" fill="#2a2a2a">0.1</text>
<text x="171.00" y="379.30" font-size="7.30" stroke="#2a2a2a" stroke-width="0.05" text-anchor="middle" textLength="8.40" lengthAdjust="spacingAndGlyphs" fill="#2a2a2a">0.9</text>
<text x="185.50" y="379.30" font-size="7.30" stroke="#2a2a2a" stroke-width="0.05" text-anchor="middle" textLength="8.40" lengthAdjust="spacingAndGlyphs" fill="#2a2a2a">0.6</text>
<text x="200.00" y="379.30" font-size="7.30" stroke="#2a2a2a" stroke-width="0.05" text-anchor="middle" textLength="8.40" lengthAdjust="spacingAndGlyphs" fill="#2a2a2a">0.4</text>
<text x="214.50" y="379.30" font-size="7.30" stroke="#2a2a2a" stroke-width="0.05" text-anchor="middle" textLength="8.40" lengthAdjust="spacingAndGlyphs" fill="#2a2a2a">1.2</text>
<text x="236.20" y="379.30" font-size="7.30" stroke="#2a2a2a" stroke-width="0.05" text-anchor="middle" textLength="8.40" lengthAdjust="spacingAndGlyphs" fill="#2a2a2a">0.1</text>
<text x="251.60" y="379.30" font-size="7.30" stroke="#2a2a2a" stroke-width="0.05" text-anchor="middle" textLength="11.40" lengthAdjust="spacingAndGlyphs" fill="#2a2a2a">&lt;0.1</text>
<text x="267.20" y="379.30" font-size="7.30" stroke="#2a2a2a" stroke-width="0.05" text-anchor="middle" textLength="11.40" lengthAdjust="spacingAndGlyphs" fill="#2a2a2a">&lt;0.1</text>
<text x="283.50" y="379.30" font-size="7.30" stroke="#2a2a2a" stroke-width="0.05" text-anchor="middle" textLength="11.40" lengthAdjust="spacingAndGlyphs" fill="#2a2a2a">&lt;0.1</text>
<text x="299.00" y="379.30" font-size="7.30" stroke="#2a2a2a" stroke-width="0.05" text-anchor="middle" textLength="8.40" lengthAdjust="spacingAndGlyphs" fill="#2a2a2a">0.5</text>
<text x="313.40" y="379.30" font-size="7.30" stroke="#2a2a2a" stroke-width="0.05" text-anchor="middle" textLength="8.40" lengthAdjust="spacingAndGlyphs" fill="#2a2a2a">1.1</text>
<text x="328.00" y="379.30" font-size="7.30" stroke="#2a2a2a" stroke-width="0.05" text-anchor="middle" textLength="8.40" lengthAdjust="spacingAndGlyphs" fill="#2a2a2a">0.5</text>
<text x="342.00" y="379.30" font-size="7.30" stroke="#2a2a2a" stroke-width="0.05" text-anchor="middle" textLength="8.40" lengthAdjust="spacingAndGlyphs" fill="#2a2a2a">0.4</text>
<text x="356.60" y="379.30" font-size="7.30" stroke="#2a2a2a" stroke-width="0.05" text-anchor="middle" textLength="8.40" lengthAdjust="spacingAndGlyphs" fill="#2a2a2a">0.6</text>
<text x="371.40" y="379.30" font-size="7.30" stroke="#2a2a2a" stroke-width="0.05" text-anchor="middle" textLength="8.40" lengthAdjust="spacingAndGlyphs" fill="#2a2a2a">0.8</text>
<text x="386.60" y="379.30" font-size="7.30" stroke="#2a2a2a" stroke-width="0.05" text-anchor="middle" textLength="8.40" lengthAdjust="spacingAndGlyphs" fill="#2a2a2a">0.2</text>
<text x="401.60" y="379.30" font-size="7.30" stroke="#2a2a2a" stroke-width="0.05" text-anchor="middle" textLength="8.40" lengthAdjust="spacingAndGlyphs" fill="#2a2a2a">0.8</text>
<text x="11.00" y="435.20" font-size="16.50" stroke="#231f20" stroke-width="0.20" textLength="9.40" lengthAdjust="spacingAndGlyphs">C</text>
<text x="39.60" y="532.60" font-size="12.40" stroke="#231f20" stroke-width="0.20" textLength="70.00" lengthAdjust="spacingAndGlyphs" transform="rotate(-90 39.60 532.60)">Protein levels</text>
<line x1="69.60" y1="546.00" x2="69.60" y2="454.10" stroke="#231f20" stroke-width="1.55"/>
<line x1="65.00" y1="545.30" x2="69.60" y2="545.30" stroke="#231f20" stroke-width="1.20"/>
<text x="61.30" y="548.60" font-size="9.60" stroke="#231f20" stroke-width="0.10" text-anchor="end" textLength="11.20" lengthAdjust="spacingAndGlyphs">0.0</text>
<line x1="65.00" y1="522.65" x2="69.60" y2="522.65" stroke="#231f20" stroke-width="1.20"/>
<text x="61.30" y="525.95" font-size="9.60" stroke="#231f20" stroke-width="0.10" text-anchor="end" textLength="11.20" lengthAdjust="spacingAndGlyphs">0.5</text>
<line x1="65.00" y1="500.00" x2="69.60" y2="500.00" stroke="#231f20" stroke-width="1.20"/>
<text x="61.30" y="503.30" font-size="9.60" stroke="#231f20" stroke-width="0.10" text-anchor="end" textLength="11.20" lengthAdjust="spacingAndGlyphs">1.0</text>
<line x1="65.00" y1="477.35" x2="69.60" y2="477.35" stroke="#231f20" stroke-width="1.20"/>
<text x="61.30" y="480.65" font-size="9.60" stroke="#231f20" stroke-width="0.10" text-anchor="end" textLength="11.20" lengthAdjust="spacingAndGlyphs">1.5</text>
<line x1="65.00" y1="454.70" x2="69.60" y2="454.70" stroke="#231f20" stroke-width="1.20"/>
<text x="61.30" y="458.00" font-size="9.60" stroke="#231f20" stroke-width="0.10" text-anchor="end" textLength="11.20" lengthAdjust="spacingAndGlyphs">2.0</text>
<line x1="68.90" y1="545.30" x2="459.60" y2="545.30" stroke="#231f20" stroke-width="1.55"/>
<line x1="84.30" y1="545.30" x2="84.30" y2="549.70" stroke="#231f20" stroke-width="1.20"/>
<text x="89.30" y="556.60" font-size="11.60" stroke="#231f20" stroke-width="0.20" text-anchor="end" textLength="21.50" lengthAdjust="spacingAndGlyphs" transform="rotate(-45 89.30 556.60)">GLI1-</text>
<line x1="112.14" y1="545.30" x2="112.14" y2="549.70" stroke="#231f20" stroke-width="1.20"/>
<text x="116.74" y="557.60" font-size="11.60" stroke="#231f20" stroke-width="0.20" text-anchor="end" textLength="23.00" lengthAdjust="spacingAndGlyphs" transform="rotate(-45 116.74 557.60)">GLI1+</text>
<line x1="139.98" y1="545.30" x2="139.98" y2="549.70" stroke="#231f20" stroke-width="1.20"/>
<text x="144.98" y="556.60" font-size="11.60" stroke="#231f20" stroke-width="0.20" text-anchor="end" textLength="21.50" lengthAdjust="spacingAndGlyphs" transform="rotate(-45 144.98 556.60)">GLI1-</text>
<line x1="167.82" y1="545.30" x2="167.82" y2="549.70" stroke="#231f20" stroke-width="1.20"/>
<text x="172.42" y="557.60" font-size="11.60" stroke="#231f20" stroke-width="0.20" text-anchor="end" textLength="23.00" lengthAdjust="spacingAndGlyphs" transform="rotate(-45 172.42 557.60)">GLI1+</text>
<line x1="195.66" y1="545.30" x2="195.66" y2="549.70" stroke="#231f20" stroke-width="1.20"/>
<text x="200.66" y="556.60" font-size="11.60" stroke="#231f20" stroke-width="0.20" text-anchor="end" textLength="21.50" lengthAdjust="spacingAndGlyphs" transform="rotate(-45 200.66 556.60)">GLI1-</text>
<line x1="223.50" y1="545.30" x2="223.50" y2="549.70" stroke="#231f20" stroke-width="1.20"/>
<text x="228.10" y="557.60" font-size="11.60" stroke="#231f20" stroke-width="0.20" text-anchor="end" textLength="23.00" lengthAdjust="spacingAndGlyphs" transform="rotate(-45 228.10 557.60)">GLI1+</text>
<line x1="251.34" y1="545.30" x2="251.34" y2="549.70" stroke="#231f20" stroke-width="1.20"/>
<text x="256.34" y="556.60" font-size="11.60" stroke="#231f20" stroke-width="0.20" text-anchor="end" textLength="21.50" lengthAdjust="spacingAndGlyphs" transform="rotate(-45 256.34 556.60)">GLI1-</text>
<line x1="279.18" y1="545.30" x2="279.18" y2="549.70" stroke="#231f20" stroke-width="1.20"/>
<text x="283.78" y="557.60" font-size="11.60" stroke="#231f20" stroke-width="0.20" text-anchor="end" textLength="23.00" lengthAdjust="spacingAndGlyphs" transform="rotate(-45 283.78 557.60)">GLI1+</text>
<line x1="307.02" y1="545.30" x2="307.02" y2="549.70" stroke="#231f20" stroke-width="1.20"/>
<text x="312.02" y="556.60" font-size="11.60" stroke="#231f20" stroke-width="0.20" text-anchor="end" textLength="21.50" lengthAdjust="spacingAndGlyphs" transform="rotate(-45 312.02 556.60)">GLI1-</text>
<line x1="334.86" y1="545.30" x2="334.86" y2="549.70" stroke="#231f20" stroke-width="1.20"/>
<text x="339.46" y="557.60" font-size="11.60" stroke="#231f20" stroke-width="0.20" text-anchor="end" textLength="23.00" lengthAdjust="spacingAndGlyphs" transform="rotate(-45 339.46 557.60)">GLI1+</text>
<line x1="362.70" y1="545.30" x2="362.70" y2="549.70" stroke="#231f20" stroke-width="1.20"/>
<text x="367.70" y="556.60" font-size="11.60" stroke="#231f20" stroke-width="0.20" text-anchor="end" textLength="21.50" lengthAdjust="spacingAndGlyphs" transform="rotate(-45 367.70 556.60)">GLI1-</text>
<line x1="390.54" y1="545.30" x2="390.54" y2="549.70" stroke="#231f20" stroke-width="1.20"/>
<text x="395.14" y="557.60" font-size="11.60" stroke="#231f20" stroke-width="0.20" text-anchor="end" textLength="23.00" lengthAdjust="spacingAndGlyphs" transform="rotate(-45 395.14 557.60)">GLI1+</text>
<line x1="418.38" y1="545.30" x2="418.38" y2="549.70" stroke="#231f20" stroke-width="1.20"/>
<text x="423.38" y="556.60" font-size="11.60" stroke="#231f20" stroke-width="0.20" text-anchor="end" textLength="21.50" lengthAdjust="spacingAndGlyphs" transform="rotate(-45 423.38 556.60)">GLI1-</text>
<line x1="446.22" y1="545.30" x2="446.22" y2="549.70" stroke="#231f20" stroke-width="1.20"/>
<text x="450.82" y="557.60" font-size="11.60" stroke="#231f20" stroke-width="0.20" text-anchor="end" textLength="23.00" lengthAdjust="spacingAndGlyphs" transform="rotate(-45 450.82 557.60)">GLI1+</text>
<text x="83.70" y="434.70" font-size="11.80" stroke="#231f20" stroke-width="0.20" textLength="23.90" lengthAdjust="spacingAndGlyphs">GLI1</text>
<text x="135.40" y="434.70" font-size="11.80" stroke="#231f20" stroke-width="0.20" textLength="33.60" lengthAdjust="spacingAndGlyphs">PTCH1</text>
<text x="195.80" y="434.70" font-size="11.80" stroke="#231f20" stroke-width="0.20" textLength="25.20" lengthAdjust="spacingAndGlyphs">E2F1</text>
<text x="242.10" y="434.70" font-size="11.80" stroke="#231f20" stroke-width="0.20" textLength="35.90" lengthAdjust="spacingAndGlyphs">pAKT1</text>
<text x="278.00" y="429.40" font-size="7.00" stroke="#231f20" stroke-width="0.12" textLength="19.10" lengthAdjust="spacingAndGlyphs">S473</text>
<text x="305.60" y="434.70" font-size="11.80" stroke="#231f20" stroke-width="0.20" textLength="25.40" lengthAdjust="spacingAndGlyphs">AKT1</text>
<text x="357.60" y="434.70" font-size="11.80" stroke="#231f20" stroke-width="0.20" textLength="26.20" lengthAdjust="spacingAndGlyphs">pBIM</text>
<text x="383.80" y="437.80" font-size="7.60" stroke="#231f20" stroke-width="0.20" textLength="10.60" lengthAdjust="spacingAndGlyphs">EL</text>
<text x="395.70" y="429.40" font-size="7.00" stroke="#231f20" stroke-width="0.12" textLength="13.50" lengthAdjust="spacingAndGlyphs">S87</text>
<text x="421.90" y="434.70" font-size="11.80" stroke="#231f20" stroke-width="0.20" textLength="20.30" lengthAdjust="spacingAndGlyphs">BIM</text>
<text x="442.20" y="437.80" font-size="7.60" stroke="#231f20" stroke-width="0.20" textLength="11.40" lengthAdjust="spacingAndGlyphs">EL</text>
<text x="95.40" y="448.60" font-size="8.40" text-anchor="middle" textLength="34.40" lengthAdjust="spacingAndGlyphs" font-family='"Liberation Serif", serif'>P &lt; 0.0001</text>
<path d="M79.80 463.6 V452.9 H111.50 V463.6" fill="none" stroke="#231f20" stroke-width="1.2"/>
<text x="152.00" y="448.60" font-size="8.40" text-anchor="middle" textLength="34.40" lengthAdjust="spacingAndGlyphs" font-family='"Liberation Serif", serif'>P &lt; 0.0001</text>
<path d="M137.00 463.6 V452.9 H168.00 V463.6" fill="none" stroke="#231f20" stroke-width="1.2"/>
<text x="209.70" y="448.60" font-size="8.40" text-anchor="middle" textLength="34.40" lengthAdjust="spacingAndGlyphs" font-family='"Liberation Serif", serif'>P &lt; 0.0001</text>
<path d="M194.20 463.6 V452.9 H224.20 V463.6" fill="none" stroke="#231f20" stroke-width="1.2"/>
<text x="262.60" y="448.60" font-size="8.40" text-anchor="middle" textLength="34.40" lengthAdjust="spacingAndGlyphs" font-family='"Liberation Serif", serif'>P &lt; 0.0001</text>
<path d="M246.30 463.6 V452.9 H277.20 V463.6" fill="none" stroke="#231f20" stroke-width="1.2"/>
<text x="319.50" y="448.60" font-size="8.40" text-anchor="middle" textLength="34.40" lengthAdjust="spacingAndGlyphs" font-family='"Liberation Serif", serif'>P &lt; 0.0001</text>
<path d="M303.50 463.6 V452.9 H333.00 V463.6" fill="none" stroke="#231f20" stroke-width="1.2"/>
<text x="377.50" y="448.60" font-size="8.40" text-anchor="middle" textLength="34.40" lengthAdjust="spacingAndGlyphs" font-family='"Liberation Serif", serif'>P &lt; 0.0001</text>
<path d="M360.60 463.6 V452.9 H391.40 V463.6" fill="none" stroke="#231f20" stroke-width="1.2"/>
<text x="430.40" y="448.60" font-size="8.40" text-anchor="middle" textLength="34.40" lengthAdjust="spacingAndGlyphs" font-family='"Liberation Serif", serif'>P &lt; 0.0001</text>
<path d="M413.40 463.6 V452.9 H445.20 V463.6" fill="none" stroke="#231f20" stroke-width="1.2"/>
<circle cx="78.30" cy="541.68" r="1.85" fill="#4d6283"/>
<circle cx="90.80" cy="541.68" r="1.85" fill="#4d6283"/>
<circle cx="80.30" cy="543.94" r="1.85" fill="#4d6283"/>
<circle cx="82.80" cy="544.85" r="1.85" fill="#4d6283"/>
<circle cx="85.80" cy="544.85" r="1.85" fill="#4d6283"/>
<circle cx="88.30" cy="543.94" r="1.85" fill="#4d6283"/>
<circle cx="84.30" cy="545.30" r="1.85" fill="#4d6283"/>
<line x1="74.80" y1="545.30" x2="93.80" y2="545.30" stroke="#111" stroke-width="1.30"/>
<rect x="110.29" y="507.21" width="3.70" height="3.70" fill="#a03444"/>
<rect x="104.29" y="512.19" width="3.70" height="3.70" fill="#a03444"/>
<rect x="116.29" y="512.19" width="3.70" height="3.70" fill="#a03444"/>
<rect x="110.29" y="516.72" width="3.70" height="3.70" fill="#a03444"/>
<rect x="103.29" y="521.25" width="3.70" height="3.70" fill="#a03444"/>
<rect x="107.29" y="521.25" width="3.70" height="3.70" fill="#a03444"/>
<rect x="113.29" y="521.25" width="3.70" height="3.70" fill="#a03444"/>
<rect x="117.29" y="521.25" width="3.70" height="3.70" fill="#a03444"/>
<rect x="103.29" y="525.78" width="3.70" height="3.70" fill="#a03444"/>
<rect x="107.29" y="525.78" width="3.70" height="3.70" fill="#a03444"/>
<rect x="113.29" y="525.78" width="3.70" height="3.70" fill="#a03444"/>
<rect x="117.29" y="525.78" width="3.70" height="3.70" fill="#a03444"/>
<rect x="103.29" y="530.31" width="3.70" height="3.70" fill="#a03444"/>
<rect x="107.29" y="530.31" width="3.70" height="3.70" fill="#a03444"/>
<rect x="113.29" y="530.31" width="3.70" height="3.70" fill="#a03444"/>
<rect x="117.29" y="530.31" width="3.70" height="3.70" fill="#a03444"/>
<rect x="106.29" y="534.84" width="3.70" height="3.70" fill="#a03444"/>
<rect x="110.29" y="534.84" width="3.70" height="3.70" fill="#a03444"/>
<rect x="114.29" y="534.84" width="3.70" height="3.70" fill="#a03444"/>
<line x1="102.64" y1="527.63" x2="121.64" y2="527.63" stroke="#111" stroke-width="1.30"/>
<circle cx="135.48" cy="539.41" r="1.85" fill="#4d6283"/>
<circle cx="143.98" cy="540.77" r="1.85" fill="#4d6283"/>
<circle cx="137.98" cy="543.49" r="1.85" fill="#4d6283"/>
<circle cx="139.98" cy="544.39" r="1.85" fill="#4d6283"/>
<circle cx="141.98" cy="543.49" r="1.85" fill="#4d6283"/>
<circle cx="138.98" cy="545.30" r="1.85" fill="#4d6283"/>
<circle cx="140.98" cy="544.85" r="1.85" fill="#4d6283"/>
<circle cx="136.98" cy="544.85" r="1.85" fill="#4d6283"/>
<circle cx="142.98" cy="544.85" r="1.85" fill="#4d6283"/>
<line x1="130.48" y1="544.39" x2="149.48" y2="544.39" stroke="#111" stroke-width="1.30"/>
<rect x="165.97" y="485.92" width="3.70" height="3.70" fill="#a03444"/>
<rect x="159.67" y="502.68" width="3.70" height="3.70" fill="#a03444"/>
<rect x="164.97" y="507.21" width="3.70" height="3.70" fill="#a03444"/>
<rect x="168.97" y="507.21" width="3.70" height="3.70" fill="#a03444"/>
<rect x="172.97" y="507.21" width="3.70" height="3.70" fill="#a03444"/>
<rect x="160.97" y="509.93" width="3.70" height="3.70" fill="#a03444"/>
<rect x="164.97" y="510.83" width="3.70" height="3.70" fill="#a03444"/>
<rect x="168.97" y="510.83" width="3.70" height="3.70" fill="#a03444"/>
<rect x="172.97" y="511.74" width="3.70" height="3.70" fill="#a03444"/>
<rect x="159.97" y="514.00" width="3.70" height="3.70" fill="#a03444"/>
<rect x="163.97" y="514.46" width="3.70" height="3.70" fill="#a03444"/>
<rect x="167.97" y="514.46" width="3.70" height="3.70" fill="#a03444"/>
<rect x="171.97" y="514.91" width="3.70" height="3.70" fill="#a03444"/>
<rect x="158.97" y="517.63" width="3.70" height="3.70" fill="#a03444"/>
<rect x="162.97" y="518.08" width="3.70" height="3.70" fill="#a03444"/>
<rect x="166.97" y="518.08" width="3.70" height="3.70" fill="#a03444"/>
<rect x="170.97" y="518.53" width="3.70" height="3.70" fill="#a03444"/>
<rect x="159.97" y="520.80" width="3.70" height="3.70" fill="#a03444"/>
<rect x="163.97" y="521.71" width="3.70" height="3.70" fill="#a03444"/>
<rect x="167.97" y="521.71" width="3.70" height="3.70" fill="#a03444"/>
<rect x="171.97" y="521.71" width="3.70" height="3.70" fill="#a03444"/>
<rect x="158.97" y="524.88" width="3.70" height="3.70" fill="#a03444"/>
<rect x="162.97" y="524.88" width="3.70" height="3.70" fill="#a03444"/>
<rect x="166.97" y="525.33" width="3.70" height="3.70" fill="#a03444"/>
<rect x="170.97" y="525.33" width="3.70" height="3.70" fill="#a03444"/>
<rect x="159.97" y="528.50" width="3.70" height="3.70" fill="#a03444"/>
<rect x="163.97" y="528.95" width="3.70" height="3.70" fill="#a03444"/>
<rect x="167.97" y="528.95" width="3.70" height="3.70" fill="#a03444"/>
<rect x="171.97" y="529.41" width="3.70" height="3.70" fill="#a03444"/>
<rect x="158.97" y="532.58" width="3.70" height="3.70" fill="#a03444"/>
<rect x="162.97" y="532.58" width="3.70" height="3.70" fill="#a03444"/>
<rect x="166.97" y="533.03" width="3.70" height="3.70" fill="#a03444"/>
<rect x="170.97" y="532.58" width="3.70" height="3.70" fill="#a03444"/>
<rect x="160.97" y="536.20" width="3.70" height="3.70" fill="#a03444"/>
<rect x="164.97" y="536.20" width="3.70" height="3.70" fill="#a03444"/>
<rect x="168.97" y="536.20" width="3.70" height="3.70" fill="#a03444"/>
<rect x="172.97" y="536.65" width="3.70" height="3.70" fill="#a03444"/>
<rect x="164.97" y="539.37" width="3.70" height="3.70" fill="#a03444"/>
<rect x="168.97" y="539.37" width="3.70" height="3.70" fill="#a03444"/>
<rect x="172.97" y="539.37" width="3.70" height="3.70" fill="#a03444"/>
<rect x="161.97" y="541.64" width="3.70" height="3.70" fill="#a03444"/>
<line x1="158.32" y1="524.01" x2="177.32" y2="524.01" stroke="#111" stroke-width="1.30"/>
<circle cx="195.66" cy="536.69" r="1.85" fill="#4d6283"/>
<circle cx="191.96" cy="540.77" r="1.85" fill="#4d6283"/>
<circle cx="198.96" cy="540.77" r="1.85" fill="#4d6283"/>
<circle cx="187.66" cy="542.58" r="1.85" fill="#4d6283"/>
<circle cx="191.66" cy="543.03" r="1.85" fill="#4d6283"/>
<circle cx="199.66" cy="543.03" r="1.85" fill="#4d6283"/>
<circle cx="203.66" cy="542.58" r="1.85" fill="#4d6283"/>
<circle cx="192.66" cy="544.85" r="1.85" fill="#4d6283"/>
<circle cx="195.66" cy="544.85" r="1.85" fill="#4d6283"/>
<circle cx="198.66" cy="544.85" r="1.85" fill="#4d6283"/>
<line x1="186.16" y1="543.94" x2="205.16" y2="543.94" stroke="#111" stroke-width="1.30"/>
<rect x="215.15" y="502.41" width="3.70" height="3.70" fill="#a03444"/>
<rect x="218.65" y="507.21" width="3.70" height="3.70" fill="#a03444"/>
<rect x="222.65" y="507.21" width="3.70" height="3.70" fill="#a03444"/>
<rect x="226.65" y="507.21" width="3.70" height="3.70" fill="#a03444"/>
<rect x="215.15" y="512.19" width="3.70" height="3.70" fill="#a03444"/>
<rect x="227.15" y="512.19" width="3.70" height="3.70" fill="#a03444"/>
<rect x="221.15" y="516.72" width="3.70" height="3.70" fill="#a03444"/>
<rect x="215.65" y="521.43" width="3.70" height="3.70" fill="#a03444"/>
<rect x="226.65" y="521.43" width="3.70" height="3.70" fill="#a03444"/>
<rect x="218.65" y="525.33" width="3.70" height="3.70" fill="#a03444"/>
<rect x="222.15" y="525.33" width="3.70" height="3.70" fill="#a03444"/>
<rect x="225.65" y="525.33" width="3.70" height="3.70" fill="#a03444"/>
<rect x="215.15" y="530.31" width="3.70" height="3.70" fill="#a03444"/>
<rect x="218.65" y="530.31" width="3.70" height="3.70" fill="#a03444"/>
<rect x="224.65" y="530.31" width="3.70" height="3.70" fill="#a03444"/>
<rect x="228.15" y="530.31" width="3.70" height="3.70" fill="#a03444"/>
<rect x="220.65" y="534.84" width="3.70" height="3.70" fill="#a03444"/>
<rect x="224.65" y="534.84" width="3.70" height="3.70" fill="#a03444"/>
<rect x="215.65" y="539.37" width="3.70" height="3.70" fill="#a03444"/>
<rect x="227.65" y="539.37" width="3.70" height="3.70" fill="#a03444"/>
<rect x="221.15" y="542.09" width="3.70" height="3.70" fill="#a03444"/>
<line x1="214.00" y1="525.37" x2="233.00" y2="525.37" stroke="#111" stroke-width="1.30"/>
<circle cx="251.34" cy="482.33" r="1.85" fill="#4d6283"/>
<circle cx="251.34" cy="504.76" r="1.85" fill="#4d6283"/>
<circle cx="251.34" cy="518.57" r="1.85" fill="#4d6283"/>
<circle cx="248.34" cy="532.16" r="1.85" fill="#4d6283"/>
<circle cx="256.84" cy="536.24" r="1.85" fill="#4d6283"/>
<circle cx="244.34" cy="541.22" r="1.85" fill="#4d6283"/>
<circle cx="248.34" cy="541.22" r="1.85" fill="#4d6283"/>
<circle cx="253.84" cy="541.22" r="1.85" fill="#4d6283"/>
<circle cx="258.34" cy="541.22" r="1.85" fill="#4d6283"/>
<circle cx="243.34" cy="543.94" r="1.85" fill="#4d6283"/>
<circle cx="246.84" cy="544.39" r="1.85" fill="#4d6283"/>
<circle cx="250.34" cy="544.39" r="1.85" fill="#4d6283"/>
<circle cx="253.84" cy="544.39" r="1.85" fill="#4d6283"/>
<circle cx="257.34" cy="543.94" r="1.85" fill="#4d6283"/>
<line x1="241.84" y1="537.15" x2="260.84" y2="537.15" stroke="#111" stroke-width="1.30"/>
<rect x="277.33" y="485.01" width="3.70" height="3.70" fill="#a03444"/>
<rect x="271.33" y="502.91" width="3.70" height="3.70" fill="#a03444"/>
<rect x="277.33" y="502.91" width="3.70" height="3.70" fill="#a03444"/>
<rect x="283.33" y="502.91" width="3.70" height="3.70" fill="#a03444"/>
<rect x="269.83" y="507.21" width="3.70" height="3.70" fill="#a03444"/>
<rect x="273.63" y="507.21" width="3.70" height="3.70" fill="#a03444"/>
<rect x="280.83" y="507.21" width="3.70" height="3.70" fill="#a03444"/>
<rect x="284.63" y="507.21" width="3.70" height="3.70" fill="#a03444"/>
<rect x="275.33" y="511.74" width="3.70" height="3.70" fill="#a03444"/>
<rect x="279.33" y="511.74" width="3.70" height="3.70" fill="#a03444"/>
<rect x="270.83" y="516.72" width="3.70" height="3.70" fill="#a03444"/>
<rect x="274.33" y="516.72" width="3.70" height="3.70" fill="#a03444"/>
<rect x="280.33" y="516.72" width="3.70" height="3.70" fill="#a03444"/>
<rect x="283.83" y="516.72" width="3.70" height="3.70" fill="#a03444"/>
<rect x="273.83" y="520.80" width="3.70" height="3.70" fill="#a03444"/>
<rect x="277.33" y="520.80" width="3.70" height="3.70" fill="#a03444"/>
<rect x="280.83" y="520.80" width="3.70" height="3.70" fill="#a03444"/>
<rect x="270.33" y="525.78" width="3.70" height="3.70" fill="#a03444"/>
<rect x="284.33" y="525.78" width="3.70" height="3.70" fill="#a03444"/>
<rect x="275.33" y="530.31" width="3.70" height="3.70" fill="#a03444"/>
<rect x="279.33" y="530.31" width="3.70" height="3.70" fill="#a03444"/>
<rect x="270.83" y="534.84" width="3.70" height="3.70" fill="#a03444"/>
<rect x="274.33" y="534.84" width="3.70" height="3.70" fill="#a03444"/>
<rect x="283.33" y="534.84" width="3.70" height="3.70" fill="#a03444"/>
<rect x="275.33" y="539.37" width="3.70" height="3.70" fill="#a03444"/>
<rect x="279.33" y="539.37" width="3.70" height="3.70" fill="#a03444"/>
<line x1="269.68" y1="520.38" x2="288.68" y2="520.38" stroke="#111" stroke-width="1.30"/>
<circle cx="304.02" cy="509.06" r="1.85" fill="#4d6283"/>
<circle cx="310.02" cy="514.04" r="1.85" fill="#4d6283"/>
<circle cx="299.02" cy="522.65" r="1.85" fill="#4d6283"/>
<circle cx="303.02" cy="522.65" r="1.85" fill="#4d6283"/>
<circle cx="309.02" cy="522.65" r="1.85" fill="#4d6283"/>
<circle cx="313.02" cy="522.65" r="1.85" fill="#4d6283"/>
<circle cx="303.02" cy="527.18" r="1.85" fill="#4d6283"/>
<circle cx="307.02" cy="527.18" r="1.85" fill="#4d6283"/>
<circle cx="311.02" cy="527.18" r="1.85" fill="#4d6283"/>
<circle cx="303.52" cy="532.16" r="1.85" fill="#4d6283"/>
<circle cx="310.02" cy="532.16" r="1.85" fill="#4d6283"/>
<circle cx="302.02" cy="536.69" r="1.85" fill="#4d6283"/>
<circle cx="305.02" cy="536.69" r="1.85" fill="#4d6283"/>
<circle cx="309.02" cy="536.69" r="1.85" fill="#4d6283"/>
<circle cx="312.02" cy="536.69" r="1.85" fill="#4d6283"/>
<circle cx="301.02" cy="541.22" r="1.85" fill="#4d6283"/>
<circle cx="307.02" cy="541.68" r="1.85" fill="#4d6283"/>
<circle cx="313.02" cy="541.22" r="1.85" fill="#4d6283"/>
<line x1="297.52" y1="528.99" x2="316.52" y2="528.99" stroke="#111" stroke-width="1.30"/>
<rect x="332.61" y="470.97" width="3.70" height="3.70" fill="#a03444"/>
<rect x="329.61" y="480.03" width="3.70" height="3.70" fill="#a03444"/>
<rect x="335.61" y="484.56" width="3.70" height="3.70" fill="#a03444"/>
<rect x="326.61" y="489.54" width="3.70" height="3.70" fill="#a03444"/>
<rect x="330.01" y="494.07" width="3.70" height="3.70" fill="#a03444"/>
<rect x="334.01" y="494.07" width="3.70" height="3.70" fill="#a03444"/>
<rect x="338.01" y="494.07" width="3.70" height="3.70" fill="#a03444"/>
<rect x="328.01" y="502.91" width="3.70" height="3.70" fill="#a03444"/>
<rect x="332.01" y="502.91" width="3.70" height="3.70" fill="#a03444"/>
<rect x="336.01" y="502.91" width="3.70" height="3.70" fill="#a03444"/>
<rect x="331.01" y="507.21" width="3.70" height="3.70" fill="#a03444"/>
<rect x="337.01" y="507.21" width="3.70" height="3.70" fill="#a03444"/>
<rect x="340.01" y="507.21" width="3.70" height="3.70" fill="#a03444"/>
<rect x="329.01" y="512.19" width="3.70" height="3.70" fill="#a03444"/>
<rect x="333.01" y="512.19" width="3.70" height="3.70" fill="#a03444"/>
<rect x="337.01" y="512.19" width="3.70" height="3.70" fill="#a03444"/>
<rect x="326.01" y="516.72" width="3.70" height="3.70" fill="#a03444"/>
<rect x="330.01" y="521.25" width="3.70" height="3.70" fill="#a03444"/>
<rect x="335.01" y="521.25" width="3.70" height="3.70" fill="#a03444"/>
<rect x="339.01" y="521.25" width="3.70" height="3.70" fill="#a03444"/>
<rect x="335.41" y="525.78" width="3.70" height="3.70" fill="#a03444"/>
<rect x="329.61" y="530.31" width="3.70" height="3.70" fill="#a03444"/>
<line x1="325.36" y1="506.34" x2="344.36" y2="506.34" stroke="#111" stroke-width="1.30"/>
<circle cx="357.50" cy="495.92" r="1.85" fill="#4d6283"/>
<circle cx="363.50" cy="495.92" r="1.85" fill="#4d6283"/>
<circle cx="369.50" cy="514.04" r="1.85" fill="#4d6283"/>
<circle cx="355.00" cy="518.57" r="1.85" fill="#4d6283"/>
<circle cx="360.00" cy="518.57" r="1.85" fill="#4d6283"/>
<circle cx="364.50" cy="518.57" r="1.85" fill="#4d6283"/>
<circle cx="356.00" cy="527.18" r="1.85" fill="#4d6283"/>
<circle cx="365.50" cy="527.18" r="1.85" fill="#4d6283"/>
<circle cx="369.00" cy="527.18" r="1.85" fill="#4d6283"/>
<circle cx="359.50" cy="532.16" r="1.85" fill="#4d6283"/>
<circle cx="363.50" cy="532.16" r="1.85" fill="#4d6283"/>
<circle cx="359.00" cy="536.69" r="1.85" fill="#4d6283"/>
<circle cx="366.00" cy="536.69" r="1.85" fill="#4d6283"/>
<circle cx="369.00" cy="536.69" r="1.85" fill="#4d6283"/>
<circle cx="356.20" cy="541.22" r="1.85" fill="#4d6283"/>
<circle cx="359.70" cy="541.22" r="1.85" fill="#4d6283"/>
<circle cx="363.70" cy="541.22" r="1.85" fill="#4d6283"/>
<circle cx="367.20" cy="541.22" r="1.85" fill="#4d6283"/>
<line x1="353.20" y1="529.44" x2="372.20" y2="529.44" stroke="#111" stroke-width="1.30"/>
<rect x="395.69" y="470.97" width="3.70" height="3.70" fill="#a03444"/>
<rect x="381.69" y="475.50" width="3.70" height="3.70" fill="#a03444"/>
<rect x="385.69" y="475.50" width="3.70" height="3.70" fill="#a03444"/>
<rect x="390.19" y="475.50" width="3.70" height="3.70" fill="#a03444"/>
<rect x="382.19" y="480.48" width="3.70" height="3.70" fill="#a03444"/>
<rect x="394.69" y="480.48" width="3.70" height="3.70" fill="#a03444"/>
<rect x="384.19" y="485.01" width="3.70" height="3.70" fill="#a03444"/>
<rect x="387.69" y="485.01" width="3.70" height="3.70" fill="#a03444"/>
<rect x="391.19" y="485.01" width="3.70" height="3.70" fill="#a03444"/>
<rect x="395.69" y="489.54" width="3.70" height="3.70" fill="#a03444"/>
<rect x="381.19" y="494.07" width="3.70" height="3.70" fill="#a03444"/>
<rect x="385.19" y="494.07" width="3.70" height="3.70" fill="#a03444"/>
<rect x="388.69" y="494.07" width="3.70" height="3.70" fill="#a03444"/>
<rect x="392.19" y="494.07" width="3.70" height="3.70" fill="#a03444"/>
<rect x="382.19" y="502.91" width="3.70" height="3.70" fill="#a03444"/>
<rect x="388.19" y="502.91" width="3.70" height="3.70" fill="#a03444"/>
<rect x="394.19" y="502.91" width="3.70" height="3.70" fill="#a03444"/>
<rect x="395.69" y="507.21" width="3.70" height="3.70" fill="#a03444"/>
<rect x="381.19" y="512.19" width="3.70" height="3.70" fill="#a03444"/>
<rect x="385.19" y="512.19" width="3.70" height="3.70" fill="#a03444"/>
<rect x="388.69" y="512.19" width="3.70" height="3.70" fill="#a03444"/>
<rect x="392.19" y="512.19" width="3.70" height="3.70" fill="#a03444"/>
<rect x="383.69" y="516.72" width="3.70" height="3.70" fill="#a03444"/>
<rect x="387.19" y="516.72" width="3.70" height="3.70" fill="#a03444"/>
<rect x="391.69" y="516.72" width="3.70" height="3.70" fill="#a03444"/>
<rect x="386.19" y="521.25" width="3.70" height="3.70" fill="#a03444"/>
<rect x="389.69" y="521.25" width="3.70" height="3.70" fill="#a03444"/>
<rect x="393.19" y="521.25" width="3.70" height="3.70" fill="#a03444"/>
<rect x="391.19" y="525.78" width="3.70" height="3.70" fill="#a03444"/>
<rect x="385.69" y="530.31" width="3.70" height="3.70" fill="#a03444"/>
<line x1="381.04" y1="502.26" x2="400.04" y2="502.26" stroke="#111" stroke-width="1.30"/>
<circle cx="417.98" cy="495.92" r="1.85" fill="#4d6283"/>
<circle cx="423.98" cy="514.04" r="1.85" fill="#4d6283"/>
<circle cx="411.98" cy="518.57" r="1.85" fill="#4d6283"/>
<circle cx="417.98" cy="518.57" r="1.85" fill="#4d6283"/>
<circle cx="410.98" cy="523.10" r="1.85" fill="#4d6283"/>
<circle cx="424.98" cy="523.10" r="1.85" fill="#4d6283"/>
<circle cx="415.38" cy="527.63" r="1.85" fill="#4d6283"/>
<circle cx="420.38" cy="527.63" r="1.85" fill="#4d6283"/>
<circle cx="411.98" cy="532.16" r="1.85" fill="#4d6283"/>
<circle cx="423.98" cy="532.16" r="1.85" fill="#4d6283"/>
<circle cx="414.38" cy="536.69" r="1.85" fill="#4d6283"/>
<circle cx="417.88" cy="536.69" r="1.85" fill="#4d6283"/>
<circle cx="421.38" cy="536.69" r="1.85" fill="#4d6283"/>
<circle cx="415.38" cy="541.22" r="1.85" fill="#4d6283"/>
<circle cx="420.98" cy="541.22" r="1.85" fill="#4d6283"/>
<circle cx="411.38" cy="543.94" r="1.85" fill="#4d6283"/>
<circle cx="414.88" cy="544.39" r="1.85" fill="#4d6283"/>
<circle cx="418.38" cy="544.85" r="1.85" fill="#4d6283"/>
<circle cx="421.88" cy="544.39" r="1.85" fill="#4d6283"/>
<circle cx="425.38" cy="543.94" r="1.85" fill="#4d6283"/>
<line x1="408.88" y1="532.16" x2="427.88" y2="532.16" stroke="#111" stroke-width="1.30"/>
<rect x="444.37" y="475.50" width="3.70" height="3.70" fill="#a03444"/>
<rect x="437.37" y="489.54" width="3.70" height="3.70" fill="#a03444"/>
<rect x="451.37" y="489.54" width="3.70" height="3.70" fill="#a03444"/>
<rect x="442.37" y="494.07" width="3.70" height="3.70" fill="#a03444"/>
<rect x="446.37" y="494.07" width="3.70" height="3.70" fill="#a03444"/>
<rect x="440.87" y="502.91" width="3.70" height="3.70" fill="#a03444"/>
<rect x="446.87" y="502.91" width="3.70" height="3.70" fill="#a03444"/>
<rect x="438.37" y="507.21" width="3.70" height="3.70" fill="#a03444"/>
<rect x="442.37" y="507.21" width="3.70" height="3.70" fill="#a03444"/>
<rect x="446.37" y="507.21" width="3.70" height="3.70" fill="#a03444"/>
<rect x="450.37" y="507.21" width="3.70" height="3.70" fill="#a03444"/>
<rect x="446.87" y="511.74" width="3.70" height="3.70" fill="#a03444"/>
<rect x="439.87" y="516.27" width="3.70" height="3.70" fill="#a03444"/>
<rect x="443.87" y="516.27" width="3.70" height="3.70" fill="#a03444"/>
<rect x="447.87" y="516.27" width="3.70" height="3.70" fill="#a03444"/>
<rect x="436.87" y="521.25" width="3.70" height="3.70" fill="#a03444"/>
<rect x="440.37" y="521.25" width="3.70" height="3.70" fill="#a03444"/>
<rect x="447.87" y="521.25" width="3.70" height="3.70" fill="#a03444"/>
<rect x="451.37" y="521.25" width="3.70" height="3.70" fill="#a03444"/>
<rect x="441.87" y="525.78" width="3.70" height="3.70" fill="#a03444"/>
<rect x="445.87" y="525.78" width="3.70" height="3.70" fill="#a03444"/>
<rect x="447.37" y="534.84" width="3.70" height="3.70" fill="#a03444"/>
<rect x="441.37" y="539.37" width="3.70" height="3.70" fill="#a03444"/>
<line x1="436.72" y1="512.23" x2="455.72" y2="512.23" stroke="#111" stroke-width="1.30"/>
<text x="10.80" y="615.20" font-size="16.50" stroke="#231f20" stroke-width="0.20" textLength="11.20" lengthAdjust="spacingAndGlyphs">D</text>
<ellipse cx="95.40" cy="609.90" rx="21.40" ry="10.10" fill="#d1cdcd"/>
<text x="82.90" y="613.40" font-size="10.40" stroke="#2a2526" stroke-width="0.10" textLength="17.40" lengthAdjust="spacingAndGlyphs" fill="#2a2526">GLI1</text>
<path d="M105.30 615.50 V607.90" stroke="#9e2236" stroke-width="1.5"/>
<path d="M102.20 609.50 L105.30 603.90 L108.40 609.50 Z" fill="#9e2236"/>
<ellipse cx="50.30" cy="659.00" rx="21.60" ry="10.40" fill="#d1cdcd"/>
<text x="36.90" y="662.50" font-size="10.40" stroke="#2a2526" stroke-width="0.10" textLength="19.60" lengthAdjust="spacingAndGlyphs" fill="#2a2526">AKT1</text>
<path d="M63.00 664.60 V657.00" stroke="#9e2236" stroke-width="1.5"/>
<path d="M59.90 658.60 L63.00 653.00 L66.10 658.60 Z" fill="#9e2236"/>
<ellipse cx="136.10" cy="659.00" rx="21.60" ry="10.40" fill="#d1cdcd"/>
<text x="123.90" y="662.50" font-size="10.40" stroke="#2a2526" stroke-width="0.10" textLength="18.60" lengthAdjust="spacingAndGlyphs" fill="#2a2526">E2F1</text>
<path d="M147.00 664.60 V657.00" stroke="#9e2236" stroke-width="1.5"/>
<path d="M143.90 658.60 L147.00 653.00 L150.10 658.60 Z" fill="#9e2236"/>
<ellipse cx="94.30" cy="697.10" rx="21.40" ry="10.40" fill="#d1cdcd"/>
<text x="82.90" y="700.60" font-size="10.40" stroke="#2a2526" stroke-width="0.10" textLength="14.20" lengthAdjust="spacingAndGlyphs" fill="#2a2526">BIM</text>
<path d="M103.30 702.70 V695.10" stroke="#9e2236" stroke-width="1.5"/>
<path d="M100.20 696.70 L103.30 691.10 L106.40 696.70 Z" fill="#9e2236"/>
<defs><marker id="ah" markerWidth="10" markerHeight="10" refX="8.6" refY="4.5" orient="auto" markerUnits="userSpaceOnUse"><path d="M0,0.2 L9,4.5 L0,8.8 L2.6,4.5 Z" fill="#111"/></marker></defs>
<line x1="95.60" y1="620.20" x2="54.60" y2="646.80" stroke="#111" stroke-width="1.5" marker-end="url(#ah)"/>
<line x1="95.60" y1="620.20" x2="134.40" y2="646.80" stroke="#111" stroke-width="1.5" marker-end="url(#ah)"/>
<line x1="48.80" y1="670.40" x2="72.40" y2="696.00" stroke="#111" stroke-width="1.5" marker-end="url(#ah)"/>
<line x1="136.80" y1="671.00" x2="115.00" y2="696.00" stroke="#111" stroke-width="1.5" marker-end="url(#ah)"/>
<line x1="94.40" y1="707.60" x2="94.40" y2="735.80" stroke="#111" stroke-width="1.5" marker-end="url(#ah)"/>
<ellipse cx="79.9" cy="686.1" rx="7.9" ry="5.6" fill="#9e2236"/>
<text x="79.90" y="689.20" font-size="8.40" stroke="#fff" stroke-width="0.20" text-anchor="middle" textLength="5.20" lengthAdjust="spacingAndGlyphs" fill="#fff">P</text>
<text x="69.40" y="684.40" font-size="9.20" stroke="#333" stroke-width="0.20" textLength="5.60" lengthAdjust="spacingAndGlyphs" fill="#333">S</text>
<text x="75.00" y="679.40" font-size="5.40" stroke="#555" stroke-width="0.12" textLength="5.60" lengthAdjust="spacingAndGlyphs" fill="#555">87</text>
<rect x="68.5" y="736.3" width="52.3" height="29.6" fill="#fff" stroke="#9e2236" stroke-width="1.2"/>
<text x="94.60" y="748.40" font-size="9.60" stroke="#2a2526" stroke-width="0.08" text-anchor="middle" textLength="15.60" lengthAdjust="spacingAndGlyphs" fill="#2a2526">cell</text>
<text x="94.60" y="761.00" font-size="9.60" stroke="#2a2526" stroke-width="0.08" text-anchor="middle" textLength="33.60" lengthAdjust="spacingAndGlyphs" fill="#2a2526">survival</text>
<text x="182.40" y="615.60" font-size="16.50" stroke="#231f20" stroke-width="0.20" textLength="8.00" lengthAdjust="spacingAndGlyphs">E</text>
<text x="211.70" y="689.40" font-size="11.80" stroke="#231f20" stroke-width="0.20" textLength="69.20" lengthAdjust="spacingAndGlyphs" transform="rotate(-90 211.70 689.40)">% viable cells</text>
<line x1="244.20" y1="708.40" x2="244.20" y2="605.90" stroke="#231f20" stroke-width="1.55"/>
<line x1="239.40" y1="707.70" x2="244.20" y2="707.70" stroke="#231f20" stroke-width="1.20"/>
<text x="235.10" y="710.60" font-size="10.20" stroke="#231f20" stroke-width="0.10" text-anchor="end" textLength="4.60" lengthAdjust="spacingAndGlyphs">0</text>
<line x1="239.40" y1="687.46" x2="244.20" y2="687.46" stroke="#231f20" stroke-width="1.20"/>
<text x="235.10" y="690.36" font-size="10.20" stroke="#231f20" stroke-width="0.10" text-anchor="end" textLength="9.40" lengthAdjust="spacingAndGlyphs">20</text>
<line x1="239.40" y1="667.22" x2="244.20" y2="667.22" stroke="#231f20" stroke-width="1.20"/>
<text x="235.10" y="670.12" font-size="10.20" stroke="#231f20" stroke-width="0.10" text-anchor="end" textLength="9.40" lengthAdjust="spacingAndGlyphs">40</text>
<line x1="239.40" y1="646.98" x2="244.20" y2="646.98" stroke="#231f20" stroke-width="1.20"/>
<text x="235.10" y="649.88" font-size="10.20" stroke="#231f20" stroke-width="0.10" text-anchor="end" textLength="9.40" lengthAdjust="spacingAndGlyphs">60</text>
<line x1="239.40" y1="626.74" x2="244.20" y2="626.74" stroke="#231f20" stroke-width="1.20"/>
<text x="235.10" y="629.64" font-size="10.20" stroke="#231f20" stroke-width="0.10" text-anchor="end" textLength="9.40" lengthAdjust="spacingAndGlyphs">80</text>
<line x1="239.40" y1="606.50" x2="244.20" y2="606.50" stroke="#231f20" stroke-width="1.20"/>
<text x="235.10" y="609.40" font-size="10.20" stroke="#231f20" stroke-width="0.10" text-anchor="end" textLength="13.80" lengthAdjust="spacingAndGlyphs">100</text>
<line x1="243.50" y1="707.70" x2="328.10" y2="707.70" stroke="#231f20" stroke-width="1.55"/>
<rect x="250.60" y="617.63" width="29.20" height="90.07" fill="#a03444"/>
<line x1="265.20" y1="617.63" x2="265.20" y2="610.65" stroke="#231f20" stroke-width="1.30"/>
<line x1="257.70" y1="610.65" x2="272.70" y2="610.65" stroke="#231f20" stroke-width="1.30"/>
<line x1="265.20" y1="707.70" x2="265.20" y2="712.00" stroke="#231f20" stroke-width="1.20"/>
<text x="265.60" y="725.50" font-size="9.60" stroke="#231f20" stroke-width="0.20" text-anchor="middle" textLength="21.20" lengthAdjust="spacingAndGlyphs">siCTR</text>
<rect x="292.90" y="655.48" width="28.80" height="52.22" fill="#4d6283"/>
<line x1="307.30" y1="655.48" x2="307.30" y2="646.88" stroke="#231f20" stroke-width="1.30"/>
<line x1="299.80" y1="646.88" x2="314.80" y2="646.88" stroke="#231f20" stroke-width="1.30"/>
<line x1="307.30" y1="707.70" x2="307.30" y2="712.00" stroke="#231f20" stroke-width="1.20"/>
<text x="307.70" y="725.50" font-size="9.60" stroke="#231f20" stroke-width="0.20" text-anchor="middle" textLength="23.00" lengthAdjust="spacingAndGlyphs">siGLI1</text>
<text x="352.00" y="616.00" font-size="16.50" stroke="#231f20" stroke-width="0.10" textLength="8.80" lengthAdjust="spacingAndGlyphs">F</text>
<text x="377.10" y="620.30" font-size="9.60" stroke="#231f20" stroke-width="0.10" textLength="23.10" lengthAdjust="spacingAndGlyphs">siCTR</text>
<text x="377.10" y="634.70" font-size="9.60" stroke="#231f20" stroke-width="0.10" textLength="21.60" lengthAdjust="spacingAndGlyphs">siGLI1</text>
<text x="416.30" y="620.00" font-size="9.40" stroke="#231f20" stroke-width="0.20" text-anchor="middle" textLength="5.20" lengthAdjust="spacingAndGlyphs">+</text>
<text x="416.30" y="634.10" font-size="9.40" stroke="#231f20" stroke-width="0.20" text-anchor="middle" textLength="3.00" lengthAdjust="spacingAndGlyphs">-</text>
<text x="443.20" y="619.70" font-size="9.40" stroke="#231f20" stroke-width="0.20" text-anchor="middle" textLength="3.00" lengthAdjust="spacingAndGlyphs">-</text>
<text x="443.20" y="634.40" font-size="9.40" stroke="#231f20" stroke-width="0.20" text-anchor="middle" textLength="5.20" lengthAdjust="spacingAndGlyphs">+</text>
<text x="470.30" y="620.00" font-size="9.40" stroke="#231f20" stroke-width="0.20" text-anchor="middle" textLength="5.20" lengthAdjust="spacingAndGlyphs">+</text>
<text x="470.30" y="634.10" font-size="9.40" stroke="#231f20" stroke-width="0.20" text-anchor="middle" textLength="3.00" lengthAdjust="spacingAndGlyphs">-</text>
<text x="497.10" y="619.70" font-size="9.40" stroke="#231f20" stroke-width="0.20" text-anchor="middle" textLength="3.00" lengthAdjust="spacingAndGlyphs">-</text>
<text x="497.10" y="634.40" font-size="9.40" stroke="#231f20" stroke-width="0.20" text-anchor="middle" textLength="5.20" lengthAdjust="spacingAndGlyphs">+</text>
<text x="398.20" y="657.70" font-size="9.60" stroke="#231f20" stroke-width="0.10" text-anchor="end" textLength="19.00" lengthAdjust="spacingAndGlyphs">GLI1</text>
<text x="398.80" y="696.60" font-size="9.60" stroke="#231f20" stroke-width="0.10" text-anchor="end" textLength="27.80" lengthAdjust="spacingAndGlyphs">&#946;-actin</text>
<rect x="403.40" y="641.80" width="51.00" height="23.10" fill="#9e9c99"/>
<g filter="url(#bl2)">
<rect x="408.60" y="651.60" width="18.40" height="4.00" rx="2.00" fill="#2e2e2e"/>
<rect x="435.00" y="652.60" width="17.20" height="2.60" rx="1.30" fill="#606060"/>
</g>
<rect x="457.30" y="641.80" width="51.30" height="23.10" fill="#9e9c99"/>
<g filter="url(#bl2)">
<rect x="459.70" y="651.00" width="19.60" height="4.80" rx="2.40" fill="#2c2c2c"/>
<rect x="489.00" y="652.80" width="14.00" height="2.40" rx="1.20" fill="#929292"/>
</g>
<rect x="403.40" y="680.80" width="51.00" height="23.00" fill="#9e9c99"/>
<g filter="url(#bl2)">
<rect x="406.00" y="688.20" width="24.00" height="9.20" rx="4.60" fill="#1e1e1e"/>
<rect x="431.40" y="688.40" width="21.60" height="8.80" rx="4.40" fill="#202020"/>
</g>
<rect x="457.30" y="680.80" width="51.30" height="23.00" fill="#9e9c99"/>
<g filter="url(#bl2)">
<rect x="458.60" y="688.20" width="23.20" height="9.20" rx="4.60" fill="#1e1e1e"/>
<rect x="483.60" y="688.40" width="22.40" height="8.80" rx="4.40" fill="#202020"/>
</g>
<text x="418.40" y="674.40" font-size="9.20" stroke="#231f20" stroke-width="0.20" text-anchor="middle" textLength="11.50" lengthAdjust="spacingAndGlyphs">0.4</text>
<text x="444.20" y="674.40" font-size="9.20" stroke="#231f20" stroke-width="0.20" text-anchor="middle" textLength="11.50" lengthAdjust="spacingAndGlyphs">0.1</text>
<text x="468.80" y="674.40" font-size="9.20" stroke="#231f20" stroke-width="0.20" text-anchor="middle" textLength="11.50" lengthAdjust="spacingAndGlyphs">0.5</text>
<text x="493.30" y="674.40" font-size="9.20" stroke="#231f20" stroke-width="0.20" text-anchor="middle" textLength="14.60" lengthAdjust="spacingAndGlyphs">&lt;0.1</text>
<text x="11.00" y="803.60" font-size="16.50" stroke="#231f20" stroke-width="0.20" textLength="11.40" lengthAdjust="spacingAndGlyphs">G</text>
<text x="39.90" y="901.20" font-size="11.80" stroke="#231f20" stroke-width="0.20" textLength="70.40" lengthAdjust="spacingAndGlyphs" transform="rotate(-90 39.90 901.20)">% viable cells</text>
<line x1="72.60" y1="923.00" x2="72.60" y2="814.05" stroke="#231f20" stroke-width="1.55"/>
<line x1="67.80" y1="922.30" x2="72.60" y2="922.30" stroke="#231f20" stroke-width="1.20"/>
<text x="63.40" y="925.60" font-size="10.20" stroke="#231f20" stroke-width="0.10" text-anchor="end" textLength="4.60" lengthAdjust="spacingAndGlyphs">0</text>
<line x1="67.80" y1="900.77" x2="72.60" y2="900.77" stroke="#231f20" stroke-width="1.20"/>
<text x="63.40" y="904.07" font-size="10.20" stroke="#231f20" stroke-width="0.10" text-anchor="end" textLength="9.40" lengthAdjust="spacingAndGlyphs">20</text>
<line x1="67.80" y1="879.24" x2="72.60" y2="879.24" stroke="#231f20" stroke-width="1.20"/>
<text x="63.40" y="882.54" font-size="10.20" stroke="#231f20" stroke-width="0.10" text-anchor="end" textLength="9.40" lengthAdjust="spacingAndGlyphs">40</text>
<line x1="67.80" y1="857.71" x2="72.60" y2="857.71" stroke="#231f20" stroke-width="1.20"/>
<text x="63.40" y="861.01" font-size="10.20" stroke="#231f20" stroke-width="0.10" text-anchor="end" textLength="9.40" lengthAdjust="spacingAndGlyphs">60</text>
<line x1="67.80" y1="836.18" x2="72.60" y2="836.18" stroke="#231f20" stroke-width="1.20"/>
<text x="63.40" y="839.48" font-size="10.20" stroke="#231f20" stroke-width="0.10" text-anchor="end" textLength="9.40" lengthAdjust="spacingAndGlyphs">80</text>
<line x1="67.80" y1="814.65" x2="72.60" y2="814.65" stroke="#231f20" stroke-width="1.20"/>
<text x="63.40" y="817.95" font-size="10.20" stroke="#231f20" stroke-width="0.10" text-anchor="end" textLength="13.60" lengthAdjust="spacingAndGlyphs">100</text>
<line x1="71.90" y1="922.30" x2="203.60" y2="922.30" stroke="#231f20" stroke-width="1.55"/>
<line x1="113.70" y1="922.30" x2="113.70" y2="925.90" stroke="#231f20" stroke-width="1.20"/>
<line x1="158.00" y1="922.30" x2="158.00" y2="925.90" stroke="#231f20" stroke-width="1.20"/>
<text x="93.80" y="939.60" font-size="9.60" stroke="#231f20" stroke-width="0.20" text-anchor="middle" textLength="5.00" lengthAdjust="spacingAndGlyphs">0</text>
<text x="138.00" y="939.60" font-size="9.60" stroke="#231f20" stroke-width="0.20" text-anchor="middle" textLength="5.00" lengthAdjust="spacingAndGlyphs">5</text>
<text x="181.90" y="939.60" font-size="9.60" stroke="#231f20" stroke-width="0.20" text-anchor="middle" textLength="10.00" lengthAdjust="spacingAndGlyphs">10</text>
<text x="105.00" y="957.60" font-size="12.20" stroke="#231f20" stroke-width="0.20" textLength="66.60" lengthAdjust="spacingAndGlyphs">Gant61 (&#956;M)</text>
<rect x="73.70" y="812.90" width="4.40" height="4.40" fill="#a03444"/>
<rect x="79.60" y="812.90" width="4.40" height="4.40" fill="#a03444"/>
<rect x="73.80" y="817.20" width="4.40" height="4.40" fill="#a03444"/>
<rect x="73.70" y="823.80" width="4.40" height="4.40" fill="#a03444"/>
<rect x="79.60" y="823.80" width="4.40" height="4.40" fill="#a03444"/>
<line x1="78.20" y1="814.60" x2="78.20" y2="824.70" stroke="#111" stroke-width="1.20"/>
<line x1="75.80" y1="814.60" x2="80.60" y2="814.60" stroke="#111" stroke-width="1.20"/>
<line x1="75.80" y1="824.70" x2="80.60" y2="824.70" stroke="#111" stroke-width="1.20"/>
<line x1="74.60" y1="818.50" x2="81.80" y2="818.50" stroke="#111" stroke-width="1.30"/>
<rect x="85.60" y="814.40" width="4.40" height="4.40" fill="#cdcacb"/>
<rect x="89.30" y="815.30" width="4.40" height="4.40" fill="#cdcacb"/>
<rect x="86.30" y="818.10" width="4.40" height="4.40" fill="#cdcacb"/>
<line x1="89.20" y1="815.00" x2="89.20" y2="822.30" stroke="#111" stroke-width="1.20"/>
<line x1="86.80" y1="815.00" x2="91.60" y2="815.00" stroke="#111" stroke-width="1.20"/>
<line x1="86.80" y1="822.30" x2="91.60" y2="822.30" stroke="#111" stroke-width="1.20"/>
<line x1="85.60" y1="818.50" x2="92.80" y2="818.50" stroke="#111" stroke-width="1.30"/>
<circle cx="99.80" cy="814.80" r="2.3" fill="#4d6283"/>
<circle cx="97.90" cy="825.20" r="2.3" fill="#4d6283"/>
<circle cx="103.20" cy="823.30" r="2.3" fill="#4d6283"/>
<line x1="99.80" y1="816.50" x2="99.80" y2="825.70" stroke="#111" stroke-width="1.20"/>
<line x1="97.40" y1="816.50" x2="102.20" y2="816.50" stroke="#111" stroke-width="1.20"/>
<line x1="97.40" y1="825.70" x2="102.20" y2="825.70" stroke="#111" stroke-width="1.20"/>
<line x1="96.20" y1="821.80" x2="103.40" y2="821.80" stroke="#111" stroke-width="1.30"/>
<circle cx="110.40" cy="815.30" r="2.3" fill="#e8b631"/>
<circle cx="107.00" cy="819.40" r="2.3" fill="#e8b631"/>
<circle cx="114.20" cy="821.80" r="2.3" fill="#e8b631"/>
<circle cx="110.90" cy="831.00" r="2.3" fill="#e8b631"/>
<line x1="110.90" y1="817.50" x2="110.90" y2="827.60" stroke="#111" stroke-width="1.20"/>
<line x1="108.50" y1="817.50" x2="113.30" y2="817.50" stroke="#111" stroke-width="1.20"/>
<line x1="108.50" y1="827.60" x2="113.30" y2="827.60" stroke="#111" stroke-width="1.20"/>
<line x1="107.30" y1="822.80" x2="114.50" y2="822.80" stroke="#111" stroke-width="1.30"/>
<rect x="119.40" y="839.00" width="4.40" height="4.40" fill="#a03444"/>
<rect x="119.40" y="843.40" width="4.40" height="4.40" fill="#a03444"/>
<rect x="119.40" y="847.80" width="4.40" height="4.40" fill="#a03444"/>
<rect x="119.40" y="852.80" width="4.40" height="4.40" fill="#a03444"/>
<line x1="121.60" y1="843.00" x2="121.60" y2="853.70" stroke="#111" stroke-width="1.20"/>
<line x1="119.20" y1="843.00" x2="124.00" y2="843.00" stroke="#111" stroke-width="1.20"/>
<line x1="119.20" y1="853.70" x2="124.00" y2="853.70" stroke="#111" stroke-width="1.20"/>
<line x1="118.00" y1="848.40" x2="125.20" y2="848.40" stroke="#111" stroke-width="1.30"/>
<rect x="128.80" y="842.80" width="4.40" height="4.40" fill="#cdcacb"/>
<rect x="133.80" y="844.00" width="4.40" height="4.40" fill="#cdcacb"/>
<rect x="127.60" y="850.50" width="4.40" height="4.40" fill="#cdcacb"/>
<line x1="132.20" y1="842.30" x2="132.20" y2="853.70" stroke="#111" stroke-width="1.20"/>
<line x1="129.80" y1="842.30" x2="134.60" y2="842.30" stroke="#111" stroke-width="1.20"/>
<line x1="129.80" y1="853.70" x2="134.60" y2="853.70" stroke="#111" stroke-width="1.20"/>
<line x1="128.60" y1="847.90" x2="135.80" y2="847.90" stroke="#111" stroke-width="1.30"/>
<circle cx="143.30" cy="822.90" r="2.3" fill="#4d6283"/>
<circle cx="146.60" cy="828.20" r="2.3" fill="#4d6283"/>
<circle cx="141.30" cy="833.50" r="2.3" fill="#4d6283"/>
<line x1="143.30" y1="824.30" x2="143.30" y2="833.50" stroke="#111" stroke-width="1.20"/>
<line x1="140.90" y1="824.30" x2="145.70" y2="824.30" stroke="#111" stroke-width="1.20"/>
<line x1="140.90" y1="833.50" x2="145.70" y2="833.50" stroke="#111" stroke-width="1.20"/>
<line x1="139.70" y1="828.50" x2="146.90" y2="828.50" stroke="#111" stroke-width="1.30"/>
<circle cx="153.80" cy="820.50" r="2.3" fill="#e8b631"/>
<circle cx="153.80" cy="824.00" r="2.3" fill="#e8b631"/>
<circle cx="151.90" cy="837.30" r="2.3" fill="#e8b631"/>
<circle cx="156.70" cy="837.30" r="2.3" fill="#e8b631"/>
<line x1="153.80" y1="821.40" x2="153.80" y2="835.40" stroke="#111" stroke-width="1.20"/>
<line x1="151.40" y1="821.40" x2="156.20" y2="821.40" stroke="#111" stroke-width="1.20"/>
<line x1="151.40" y1="835.40" x2="156.20" y2="835.40" stroke="#111" stroke-width="1.20"/>
<line x1="150.20" y1="828.50" x2="157.40" y2="828.50" stroke="#111" stroke-width="1.30"/>
<rect x="162.40" y="867.60" width="4.40" height="4.40" fill="#a03444"/>
<rect x="162.20" y="871.60" width="4.40" height="4.40" fill="#a03444"/>
<rect x="162.40" y="879.30" width="4.40" height="4.40" fill="#a03444"/>
<rect x="162.40" y="882.80" width="4.40" height="4.40" fill="#a03444"/>
<line x1="164.60" y1="869.80" x2="164.60" y2="882.30" stroke="#111" stroke-width="1.20"/>
<line x1="162.20" y1="869.80" x2="167.00" y2="869.80" stroke="#111" stroke-width="1.20"/>
<line x1="162.20" y1="882.30" x2="167.00" y2="882.30" stroke="#111" stroke-width="1.20"/>
<line x1="161.00" y1="876.00" x2="168.20" y2="876.00" stroke="#111" stroke-width="1.30"/>
<rect x="173.40" y="859.80" width="4.40" height="4.40" fill="#cdcacb"/>
<rect x="173.40" y="874.00" width="4.40" height="4.40" fill="#cdcacb"/>
<line x1="175.40" y1="861.60" x2="175.40" y2="876.00" stroke="#111" stroke-width="1.20"/>
<line x1="173.00" y1="861.60" x2="177.80" y2="861.60" stroke="#111" stroke-width="1.20"/>
<line x1="173.00" y1="876.00" x2="177.80" y2="876.00" stroke="#111" stroke-width="1.20"/>
<line x1="171.80" y1="869.30" x2="179.00" y2="869.30" stroke="#111" stroke-width="1.30"/>
<circle cx="186.30" cy="825.10" r="2.3" fill="#4d6283"/>
<circle cx="189.60" cy="830.40" r="2.3" fill="#4d6283"/>
<circle cx="183.80" cy="834.70" r="2.3" fill="#4d6283"/>
<line x1="186.30" y1="826.00" x2="186.30" y2="835.70" stroke="#111" stroke-width="1.20"/>
<line x1="183.90" y1="826.00" x2="188.70" y2="826.00" stroke="#111" stroke-width="1.20"/>
<line x1="183.90" y1="835.70" x2="188.70" y2="835.70" stroke="#111" stroke-width="1.20"/>
<line x1="182.70" y1="830.20" x2="189.90" y2="830.20" stroke="#111" stroke-width="1.30"/>
<circle cx="196.80" cy="821.30" r="2.3" fill="#e8b631"/>
<circle cx="197.00" cy="824.50" r="2.3" fill="#e8b631"/>
<circle cx="200.20" cy="838.00" r="2.3" fill="#e8b631"/>
<circle cx="195.20" cy="840.50" r="2.3" fill="#e8b631"/>
<line x1="197.10" y1="822.20" x2="197.10" y2="837.60" stroke="#111" stroke-width="1.20"/>
<line x1="194.70" y1="822.20" x2="199.50" y2="822.20" stroke="#111" stroke-width="1.20"/>
<line x1="194.70" y1="837.60" x2="199.50" y2="837.60" stroke="#111" stroke-width="1.20"/>
<line x1="193.50" y1="829.90" x2="200.70" y2="829.90" stroke="#111" stroke-width="1.30"/>
<text x="133.10" y="801.70" font-size="8.60" text-anchor="middle" textLength="35.00" lengthAdjust="spacingAndGlyphs" font-family='"Liberation Serif", serif'>P &lt; 0.0001</text>
<path d="M126.00 814.0 V807.0 H149.20 V814.0" fill="none" stroke="#231f20" stroke-width="1.2"/>
<text x="182.30" y="801.70" font-size="8.60" text-anchor="middle" textLength="35.00" lengthAdjust="spacingAndGlyphs" font-family='"Liberation Serif", serif'>P &lt; 0.0001</text>
<path d="M167.70 814.0 V807.0 H191.70 V814.0" fill="none" stroke="#231f20" stroke-width="1.2"/>
<circle cx="84.8" cy="874.60" r="2.4" fill="#e8b631"/>
<text x="91.60" y="877.20" font-size="7.20" stroke="#333" stroke-width="0.06" textLength="26.20" lengthAdjust="spacingAndGlyphs" fill="#333">GLI1-Hh</text>
<text x="118.40" y="878.40" font-size="4.60" stroke="#444" stroke-width="0.12" textLength="6.90" lengthAdjust="spacingAndGlyphs" fill="#444">WT</text>
<rect x="82.60" y="883.80" width="4.50" height="4.60" fill="#cdcacb"/>
<text x="91.60" y="888.70" font-size="7.20" stroke="#333" stroke-width="0.06" textLength="29.10" lengthAdjust="spacingAndGlyphs" fill="#333">GLI1+Hh</text>
<text x="121.30" y="889.90" font-size="4.60" stroke="#444" stroke-width="0.12" textLength="6.90" lengthAdjust="spacingAndGlyphs" fill="#444">WT</text>
<circle cx="84.8" cy="897.60" r="2.4" fill="#4d6283"/>
<text x="91.60" y="900.20" font-size="7.20" stroke="#333" stroke-width="0.06" textLength="26.20" lengthAdjust="spacingAndGlyphs" fill="#333">GLI1-Hh</text>
<text x="118.40" y="901.40" font-size="4.60" stroke="#444" stroke-width="0.12" textLength="6.50" lengthAdjust="spacingAndGlyphs" fill="#444">MU</text>
<rect x="82.60" y="906.80" width="4.50" height="4.60" fill="#a03444"/>
<text x="91.60" y="911.70" font-size="7.20" stroke="#333" stroke-width="0.06" textLength="29.10" lengthAdjust="spacingAndGlyphs" fill="#333">GLI1+Hh</text>
<text x="121.30" y="912.90" font-size="4.60" stroke="#444" stroke-width="0.12" textLength="6.50" lengthAdjust="spacingAndGlyphs" fill="#444">MU</text>
<text x="228.30" y="803.90" font-size="17.60" stroke="#231f20" stroke-width="0.20" textLength="8.90" lengthAdjust="spacingAndGlyphs">H</text>
<text x="259.40" y="803.20" font-size="9.40" stroke="#231f20" stroke-width="0.08" textLength="32.60" lengthAdjust="spacingAndGlyphs">GANT61</text>
<text x="309.40" y="802.90" font-size="9.40" stroke="#231f20" stroke-width="0.20" text-anchor="middle" textLength="3.00" lengthAdjust="spacingAndGlyphs">-</text>
<text x="335.30" y="803.20" font-size="9.40" stroke="#231f20" stroke-width="0.20" text-anchor="middle" textLength="5.20" lengthAdjust="spacingAndGlyphs">+</text>
<text x="363.40" y="802.90" font-size="9.40" stroke="#231f20" stroke-width="0.20" text-anchor="middle" textLength="3.00" lengthAdjust="spacingAndGlyphs">-</text>
<text x="388.50" y="803.20" font-size="9.40" stroke="#231f20" stroke-width="0.20" text-anchor="middle" textLength="5.20" lengthAdjust="spacingAndGlyphs">+</text>
<text x="292.30" y="827.30" font-size="9.40" stroke="#231f20" stroke-width="0.08" text-anchor="end" textLength="17.40" lengthAdjust="spacingAndGlyphs">GLI1</text>
<text x="256.70" y="868.20" font-size="9.40" stroke="#231f20" stroke-width="0.08" textLength="21.00" lengthAdjust="spacingAndGlyphs">pBIM</text>
<text x="277.70" y="871.60" font-size="5.20" stroke="#444" stroke-width="0.08" textLength="5.80" lengthAdjust="spacingAndGlyphs" fill="#444">EL</text>
<text x="283.60" y="862.60" font-size="5.20" stroke="#444" stroke-width="0.08" textLength="8.90" lengthAdjust="spacingAndGlyphs" fill="#444">S87</text>
<text x="292.50" y="882.20" font-size="5.60" stroke="#555" stroke-width="0.08" text-anchor="end" textLength="39.50" lengthAdjust="spacingAndGlyphs" fill="#555">pBIM/BIM ratio</text>
<text x="272.00" y="904.60" font-size="9.40" stroke="#231f20" stroke-width="0.08" textLength="13.80" lengthAdjust="spacingAndGlyphs">BIM</text>
<text x="285.80" y="908.30" font-size="5.20" stroke="#444" stroke-width="0.08" textLength="6.70" lengthAdjust="spacingAndGlyphs" fill="#444">EL</text>
<text x="292.50" y="945.80" font-size="9.40" stroke="#231f20" stroke-width="0.08" text-anchor="end" textLength="27.50" lengthAdjust="spacingAndGlyphs">&#946;-actin</text>
<rect x="298.20" y="808.20" width="49.70" height="27.10" fill="#888784"/>
<g filter="url(#bl3)">
<rect x="300.20" y="820.20" width="19.20" height="6.40" rx="3.20" fill="rgb(55,55,55)"/>
<rect x="326.20" y="820.40" width="18.00" height="6.00" rx="3.00" fill="rgb(67,67,67)"/>
</g>
<rect x="350.60" y="808.20" width="50.20" height="27.10" fill="#888784"/>
<g filter="url(#bl3)">
<rect x="353.00" y="820.10" width="18.80" height="6.60" rx="3.30" fill="rgb(50,50,50)"/>
<rect x="379.30" y="820.70" width="16.40" height="5.40" rx="2.70" fill="rgb(91,91,91)"/>
</g>
<rect x="298.20" y="848.40" width="49.70" height="24.50" fill="#888784"/>
<g filter="url(#bl3)">
<rect x="300.40" y="856.90" width="18.80" height="7.40" rx="3.70" fill="rgb(55,55,55)"/>
<rect x="326.40" y="857.40" width="17.60" height="6.40" rx="3.20" fill="rgb(85,85,85)"/>
</g>
<rect x="350.60" y="848.40" width="50.20" height="24.50" fill="#888784"/>
<g filter="url(#bl3)">
<rect x="353.40" y="857.10" width="18.00" height="7.00" rx="3.50" fill="rgb(57,57,57)"/>
</g>
<rect x="298.20" y="886.20" width="49.70" height="25.00" fill="#888784"/>
<g filter="url(#bl3)">
<rect x="299.80" y="894.80" width="20.00" height="7.60" rx="3.80" fill="rgb(55,55,55)"/>
<rect x="326.00" y="895.10" width="18.40" height="7.00" rx="3.50" fill="rgb(67,67,67)"/>
</g>
<rect x="350.60" y="886.20" width="50.20" height="25.00" fill="#888784"/>
<g filter="url(#bl3)">
<rect x="353.20" y="895.50" width="18.40" height="6.20" rx="3.10" fill="rgb(79,79,79)"/>
<rect x="378.90" y="895.70" width="17.20" height="5.80" rx="2.90" fill="rgb(88,88,88)"/>
</g>
<rect x="298.20" y="924.40" width="49.70" height="26.90" fill="#888784"/>
<g filter="url(#bl2)">
<rect x="297.40" y="935.40" width="24.80" height="10.40" rx="5.20" fill="rgb(34,34,34)"/>
<rect x="323.20" y="935.60" width="24.00" height="10.00" rx="5.00" fill="rgb(34,34,34)"/>
</g>
<rect x="350.60" y="924.40" width="50.20" height="26.90" fill="#888784"/>
<g filter="url(#bl2)">
<rect x="350.20" y="935.40" width="24.40" height="10.40" rx="5.20" fill="rgb(34,34,34)"/>
<rect x="375.50" y="935.60" width="24.00" height="10.00" rx="5.00" fill="rgb(34,34,34)"/>
</g>
<text x="309.80" y="845.20" font-size="9.20" stroke="#231f20" stroke-width="0.20" text-anchor="middle" textLength="11.60" lengthAdjust="spacingAndGlyphs">0.4</text>
<text x="335.20" y="845.20" font-size="9.20" stroke="#231f20" stroke-width="0.20" text-anchor="middle" textLength="11.60" lengthAdjust="spacingAndGlyphs">0.2</text>
<text x="362.40" y="845.20" font-size="9.20" stroke="#231f20" stroke-width="0.20" text-anchor="middle" textLength="11.60" lengthAdjust="spacingAndGlyphs">0.3</text>
<text x="387.50" y="845.20" font-size="9.20" stroke="#231f20" stroke-width="0.20" text-anchor="middle" textLength="11.60" lengthAdjust="spacingAndGlyphs">0.1</text>
<text x="309.80" y="883.60" font-size="9.20" stroke="#231f20" stroke-width="0.20" text-anchor="middle" textLength="11.60" lengthAdjust="spacingAndGlyphs">0.8</text>
<text x="335.20" y="883.60" font-size="9.20" stroke="#231f20" stroke-width="0.20" text-anchor="middle" textLength="11.60" lengthAdjust="spacingAndGlyphs">0.5</text>
<text x="362.40" y="883.60" font-size="9.20" stroke="#231f20" stroke-width="0.20" text-anchor="middle" textLength="11.60" lengthAdjust="spacingAndGlyphs">1.0</text>
<text x="387.50" y="883.60" font-size="9.20" stroke="#231f20" stroke-width="0.20" text-anchor="middle" textLength="14.60" lengthAdjust="spacingAndGlyphs">&lt;0.1</text>
<text x="309.80" y="921.40" font-size="9.20" stroke="#231f20" stroke-width="0.20" text-anchor="middle" textLength="11.60" lengthAdjust="spacingAndGlyphs">0.6</text>
<text x="335.20" y="921.40" font-size="9.20" stroke="#231f20" stroke-width="0.20" text-anchor="middle" textLength="11.60" lengthAdjust="spacingAndGlyphs">0.4</text>
<text x="362.40" y="921.40" font-size="9.20" stroke="#231f20" stroke-width="0.20" text-anchor="middle" textLength="11.60" lengthAdjust="spacingAndGlyphs">0.2</text>
<text x="387.50" y="921.40" font-size="9.20" stroke="#231f20" stroke-width="0.20" text-anchor="middle" textLength="14.60" lengthAdjust="spacingAndGlyphs">&lt;0.1</text>
<rect x="0.00" y="0.00" width="520.00" height="1.00" fill="#000"/>
<rect x="0.00" y="1.00" width="520.00" height="1.00" fill="#8a8a8a"/>
<rect x="0.00" y="0.00" width="1.00" height="972.00" fill="#8a8a8a"/>
<rect x="1.00" y="0.00" width="1.00" height="971.00" fill="#000"/>
<rect x="518.00" y="0.00" width="1.00" height="971.00" fill="#000"/>
<rect x="519.00" y="0.00" width="1.00" height="972.00" fill="#8a8a8a"/>
<rect x="0.00" y="970.00" width="519.00" height="1.00" fill="#000"/>
<rect x="0.00" y="971.00" width="520.00" height="1.00" fill="#8a8a8a"/>
</svg></body></html>
